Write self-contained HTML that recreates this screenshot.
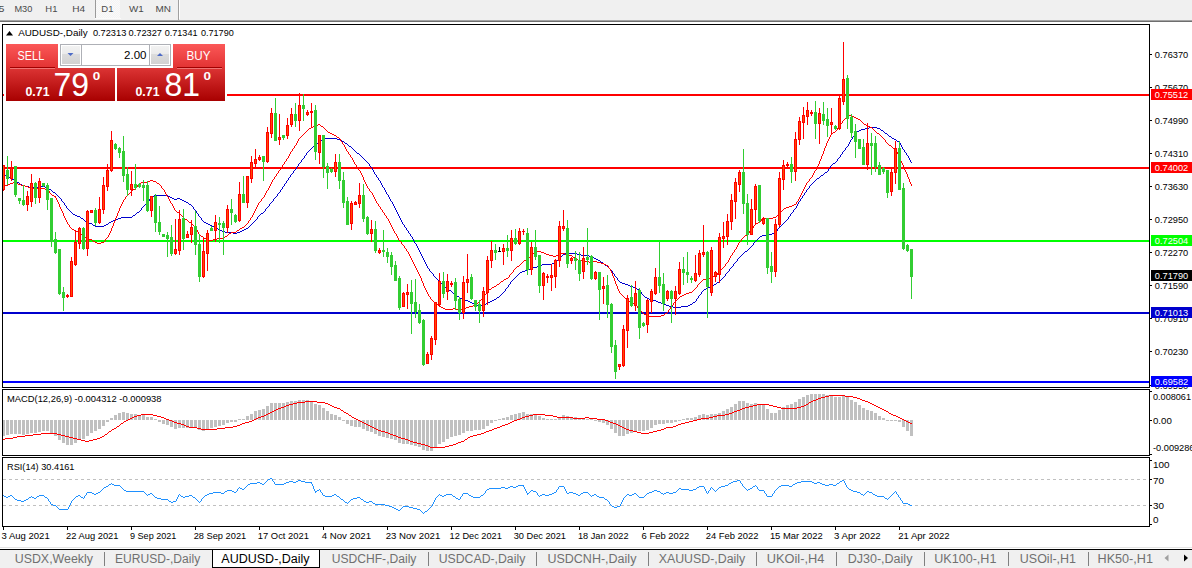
<!DOCTYPE html><html><head><meta charset="utf-8"><title>AUDUSD Daily</title><style>
html,body{margin:0;padding:0;width:1192px;height:568px;overflow:hidden;background:#fff;}
svg text{font-family:"Liberation Sans", sans-serif;}
</style></head><body>
<svg width="1192" height="568" viewBox="0 0 1192 568" style="position:absolute;left:0;top:0">
<defs>
<clipPath id="cm"><rect x="3" y="25" width="1146" height="362"/></clipPath>
<clipPath id="cmacd"><rect x="3" y="390" width="1146" height="65"/></clipPath>
<clipPath id="crsi"><rect x="3" y="458" width="1146" height="68"/></clipPath>
<linearGradient id="gtop" x1="0" y1="0" x2="0" y2="1"><stop offset="0" stop-color="#fb5858"/><stop offset="1" stop-color="#e23232"/></linearGradient>
<linearGradient id="gbot" x1="0" y1="0" x2="0" y2="1"><stop offset="0" stop-color="#dc3434"/><stop offset="1" stop-color="#a80000"/></linearGradient>
<linearGradient id="gbtn" x1="0" y1="0" x2="0" y2="1"><stop offset="0" stop-color="#f2f2f2"/><stop offset="0.42" stop-color="#ebebeb"/><stop offset="0.45" stop-color="#dcdcdc"/><stop offset="1" stop-color="#d2d2d2"/></linearGradient>
<pattern id="pd1" width="2" height="2" patternUnits="userSpaceOnUse"><rect width="2" height="2" fill="#f4f4f4"/><rect width="1" height="1" fill="#fafafa"/><rect x="1" y="1" width="1" height="1" fill="#fafafa"/></pattern>
</defs>
<rect x="0" y="0" width="1192" height="20" fill="#f0f0f0"/>
<rect x="0" y="20" width="1192" height="1" fill="#a4a4a4"/>
<rect x="0" y="21" width="1192" height="1" fill="#6e6e6e"/>
<rect x="96" y="0" width="24" height="18" fill="url(#pd1)"/><rect x="95" y="18" width="26" height="1" fill="#fbfbfb"/>
<rect x="95" y="0" width="1" height="18" fill="#9a9a9a"/>
<rect x="178" y="0" width="1" height="20" fill="#a0a0a0"/>
<rect x="179" y="0" width="1" height="19" fill="#ffffff"/>
<text x="-1.5" y="11.8" font-size="9.3" fill="#4a4a4a" textLength="5.9" lengthAdjust="spacingAndGlyphs">5</text>
<text x="14.4" y="11.8" font-size="9.3" fill="#4a4a4a" textLength="17.9" lengthAdjust="spacingAndGlyphs">M30</text>
<text x="45.3" y="11.8" font-size="9.3" fill="#4a4a4a" textLength="12.1" lengthAdjust="spacingAndGlyphs">H1</text>
<text x="72.2" y="11.8" font-size="9.3" fill="#4a4a4a" textLength="12.9" lengthAdjust="spacingAndGlyphs">H4</text>
<text x="101.3" y="11.8" font-size="9.3" fill="#4a4a4a" textLength="12.1" lengthAdjust="spacingAndGlyphs">D1</text>
<text x="129" y="11.8" font-size="9.3" fill="#4a4a4a" textLength="14.7" lengthAdjust="spacingAndGlyphs">W1</text>
<text x="155.5" y="11.8" font-size="9.3" fill="#4a4a4a" textLength="15.5" lengthAdjust="spacingAndGlyphs">MN</text>
<rect x="2" y="24" width="1148" height="1" fill="#000"/>
<rect x="2" y="387" width="1148" height="1" fill="#000"/>
<rect x="2" y="24" width="1" height="364" fill="#000"/>
<rect x="1149" y="24" width="1" height="364" fill="#000"/>
<rect x="3" y="94" width="1146" height="2" fill="#ff0000"/>
<rect x="3" y="167" width="1146" height="2" fill="#ff0000"/>
<rect x="3" y="240" width="1146" height="2" fill="#00ff00"/>
<rect x="3" y="312" width="1146" height="2" fill="#0000cd"/>
<rect x="3" y="381" width="1146" height="2" fill="#0000ff"/>
<g clip-path="url(#cm)">
<path d="M3,174h1v1h-1zM4,174h1v1h-1zM5,175h1v1h-1zM6,175h1v1h-1zM7,175h1v1h-1zM8,176h1v1h-1zM9,177h1v1h-1zM10,177h1v1h-1zM11,178h1v1h-1zM12,179h1v1h-1zM13,179h1v1h-1zM14,180h1v1h-1zM15,180h1v1h-1zM16,181h1v1h-1zM17,182h1v1h-1zM18,182h1v1h-1zM19,183h1v1h-1zM20,184h1v1h-1zM21,184h1v1h-1zM22,185h1v1h-1zM23,185h1v1h-1zM24,185h1v1h-1zM25,186h1v1h-1zM26,186h1v1h-1zM27,186h1v1h-1zM28,186h1v1h-1zM29,187h1v1h-1zM30,187h1v1h-1zM31,187h1v1h-1zM32,187h1v1h-1zM33,187h1v1h-1zM34,187h1v1h-1zM35,187h1v1h-1zM36,187h1v1h-1zM37,187h1v1h-1zM38,187h1v1h-1zM39,187h1v1h-1zM40,187h1v1h-1zM41,186h1v1h-1zM42,186h1v1h-1zM43,186h1v1h-1zM44,186h1v1h-1zM45,187h1v1h-1zM46,187h1v1h-1zM47,187h1v1h-1zM48,188h1v1h-1zM49,189h1v1h-1zM50,189h1v1h-1zM51,190h1v1h-1zM52,191h1v1h-1zM53,192h1v1h-1zM54,192h1v1h-1zM55,193h1v1h-1zM56,194h1v1h-1zM57,195h1v1h-1zM58,196h1v1h-1zM59,197h1v1h-1zM60,198h1v1h-1zM61,199h1v2h-1zM62,201h1v1h-1zM63,202h1v1h-1zM64,203h1v2h-1zM65,205h1v1h-1zM66,206h1v2h-1zM67,208h1v1h-1zM68,209h1v1h-1zM69,210h1v1h-1zM70,211h1v1h-1zM71,212h1v1h-1zM72,213h1v1h-1zM73,214h1v1h-1zM74,214h1v1h-1zM75,215h1v1h-1zM76,215h1v1h-1zM77,216h1v1h-1zM78,216h1v1h-1zM79,216h1v1h-1zM80,217h1v1h-1zM81,218h1v1h-1zM82,218h1v1h-1zM83,219h1v1h-1zM84,220h1v1h-1zM85,221h1v1h-1zM86,221h1v1h-1zM87,222h1v1h-1zM88,222h1v1h-1zM89,223h1v1h-1zM90,223h1v1h-1zM91,223h1v1h-1zM92,224h1v1h-1zM93,225h1v1h-1zM94,225h1v1h-1zM95,226h1v1h-1zM96,226h1v1h-1zM97,226h1v1h-1zM98,226h1v1h-1zM99,226h1v1h-1zM100,226h1v1h-1zM101,226h1v1h-1zM102,226h1v1h-1zM103,226h1v1h-1zM104,225h1v1h-1zM105,225h1v1h-1zM106,224h1v1h-1zM107,224h1v1h-1zM108,223h1v1h-1zM109,222h1v1h-1zM110,222h1v1h-1zM111,221h1v1h-1zM112,221h1v1h-1zM113,220h1v1h-1zM114,220h1v1h-1zM115,220h1v1h-1zM116,219h1v1h-1zM117,219h1v1h-1zM118,218h1v1h-1zM119,218h1v1h-1zM120,218h1v1h-1zM121,217h1v1h-1zM122,217h1v1h-1zM123,217h1v1h-1zM124,217h1v1h-1zM125,217h1v1h-1zM126,217h1v1h-1zM127,217h1v1h-1zM128,217h1v1h-1zM129,217h1v1h-1zM130,217h1v1h-1zM131,217h1v1h-1zM132,216h1v1h-1zM133,215h1v1h-1zM134,215h1v1h-1zM135,214h1v1h-1zM136,213h1v1h-1zM137,212h1v1h-1zM138,212h1v1h-1zM139,211h1v1h-1zM140,210h1v1h-1zM141,208h1v2h-1zM142,207h1v1h-1zM143,206h1v1h-1zM144,205h1v1h-1zM145,204h1v1h-1zM146,203h1v1h-1zM147,202h1v1h-1zM148,201h1v1h-1zM149,199h1v2h-1zM150,198h1v1h-1zM151,197h1v1h-1zM152,196h1v1h-1zM153,196h1v1h-1zM154,195h1v1h-1zM155,195h1v1h-1zM156,195h1v1h-1zM157,195h1v1h-1zM158,195h1v1h-1zM159,195h1v1h-1zM160,195h1v1h-1zM161,195h1v1h-1zM162,195h1v1h-1zM163,195h1v1h-1zM164,195h1v1h-1zM165,195h1v1h-1zM166,195h1v1h-1zM167,195h1v1h-1zM168,196h1v1h-1zM169,196h1v1h-1zM170,197h1v1h-1zM171,197h1v1h-1zM172,198h1v1h-1zM173,198h1v1h-1zM174,199h1v1h-1zM175,199h1v1h-1zM176,199h1v1h-1zM177,198h1v1h-1zM178,198h1v1h-1zM179,198h1v1h-1zM180,199h1v1h-1zM181,199h1v1h-1zM182,200h1v1h-1zM183,200h1v1h-1zM184,201h1v1h-1zM185,201h1v1h-1zM186,202h1v1h-1zM187,202h1v1h-1zM188,203h1v1h-1zM189,204h1v1h-1zM190,204h1v1h-1zM191,205h1v1h-1zM192,206h1v1h-1zM193,207h1v2h-1zM194,209h1v1h-1zM195,210h1v1h-1zM196,211h1v2h-1zM197,213h1v1h-1zM198,214h1v2h-1zM199,216h1v1h-1zM200,217h1v1h-1zM201,218h1v2h-1zM202,220h1v1h-1zM203,221h1v1h-1zM204,222h1v1h-1zM205,222h1v1h-1zM206,223h1v1h-1zM207,223h1v1h-1zM208,224h1v1h-1zM209,224h1v1h-1zM210,225h1v1h-1zM211,225h1v1h-1zM212,226h1v1h-1zM213,226h1v1h-1zM214,227h1v1h-1zM215,227h1v1h-1zM216,228h1v1h-1zM217,228h1v1h-1zM218,229h1v1h-1zM219,229h1v1h-1zM220,230h1v1h-1zM221,230h1v1h-1zM222,231h1v1h-1zM223,231h1v1h-1zM224,231h1v1h-1zM225,232h1v1h-1zM226,232h1v1h-1zM227,232h1v1h-1zM228,232h1v1h-1zM229,232h1v1h-1zM230,232h1v1h-1zM231,232h1v1h-1zM232,232h1v1h-1zM233,233h1v1h-1zM234,233h1v1h-1zM235,233h1v1h-1zM236,233h1v1h-1zM237,232h1v1h-1zM238,232h1v1h-1zM239,232h1v1h-1zM240,231h1v1h-1zM241,231h1v1h-1zM242,230h1v1h-1zM243,230h1v1h-1zM244,229h1v1h-1zM245,229h1v1h-1zM246,228h1v1h-1zM247,228h1v1h-1zM248,227h1v1h-1zM249,226h1v1h-1zM250,225h1v1h-1zM251,224h1v1h-1zM252,223h1v1h-1zM253,222h1v1h-1zM254,221h1v1h-1zM255,220h1v1h-1zM256,219h1v1h-1zM257,217h1v2h-1zM258,216h1v1h-1zM259,215h1v1h-1zM260,214h1v1h-1zM261,213h1v1h-1zM262,213h1v1h-1zM263,212h1v1h-1zM264,211h1v1h-1zM265,209h1v2h-1zM266,208h1v1h-1zM267,207h1v1h-1zM268,206h1v1h-1zM269,204h1v2h-1zM270,203h1v1h-1zM271,202h1v1h-1zM272,201h1v1h-1zM273,199h1v2h-1zM274,198h1v1h-1zM275,197h1v1h-1zM276,196h1v1h-1zM277,194h1v2h-1zM278,193h1v1h-1zM279,192h1v1h-1zM280,190h1v2h-1zM281,189h1v1h-1zM282,187h1v2h-1zM283,186h1v1h-1zM284,184h1v2h-1zM285,183h1v1h-1zM286,181h1v2h-1zM287,180h1v1h-1zM288,178h1v2h-1zM289,177h1v1h-1zM290,175h1v2h-1zM291,174h1v1h-1zM292,173h1v1h-1zM293,171h1v2h-1zM294,170h1v1h-1zM295,169h1v1h-1zM296,167h1v2h-1zM297,166h1v1h-1zM298,164h1v2h-1zM299,163h1v1h-1zM300,162h1v1h-1zM301,160h1v2h-1zM302,159h1v1h-1zM303,158h1v1h-1zM304,156h1v2h-1zM305,155h1v1h-1zM306,153h1v2h-1zM307,152h1v1h-1zM308,151h1v1h-1zM309,150h1v1h-1zM310,149h1v1h-1zM311,148h1v1h-1zM312,147h1v1h-1zM313,146h1v1h-1zM314,146h1v1h-1zM315,145h1v1h-1zM316,144h1v1h-1zM317,143h1v1h-1zM318,142h1v1h-1zM319,141h1v1h-1zM320,140h1v1h-1zM321,140h1v1h-1zM322,139h1v1h-1zM323,139h1v1h-1zM324,139h1v1h-1zM325,138h1v1h-1zM326,138h1v1h-1zM327,138h1v1h-1zM328,138h1v1h-1zM329,138h1v1h-1zM330,138h1v1h-1zM331,138h1v1h-1zM332,138h1v1h-1zM333,138h1v1h-1zM334,138h1v1h-1zM335,138h1v1h-1zM336,138h1v1h-1zM337,139h1v1h-1zM338,139h1v1h-1zM339,139h1v1h-1zM340,140h1v1h-1zM341,140h1v1h-1zM342,141h1v1h-1zM343,141h1v1h-1zM344,142h1v1h-1zM345,143h1v1h-1zM346,143h1v1h-1zM347,144h1v1h-1zM348,145h1v1h-1zM349,146h1v1h-1zM350,146h1v1h-1zM351,147h1v1h-1zM352,148h1v1h-1zM353,149h1v1h-1zM354,150h1v1h-1zM355,151h1v1h-1zM356,152h1v1h-1zM357,153h1v1h-1zM358,153h1v1h-1zM359,154h1v1h-1zM360,155h1v1h-1zM361,156h1v1h-1zM362,157h1v1h-1zM363,158h1v1h-1zM364,159h1v1h-1zM365,160h1v1h-1zM366,161h1v1h-1zM367,162h1v1h-1zM368,163h1v1h-1zM369,164h1v2h-1zM370,166h1v1h-1zM371,167h1v1h-1zM372,168h1v2h-1zM373,170h1v2h-1zM374,172h1v2h-1zM375,174h1v1h-1zM376,175h1v2h-1zM377,177h1v1h-1zM378,178h1v2h-1zM379,180h1v1h-1zM380,181h1v2h-1zM381,183h1v2h-1zM382,185h1v2h-1zM383,187h1v1h-1zM384,188h1v2h-1zM385,190h1v2h-1zM386,192h1v2h-1zM387,194h1v1h-1zM388,195h1v2h-1zM389,197h1v2h-1zM390,199h1v2h-1zM391,201h1v1h-1zM392,202h1v2h-1zM393,204h1v2h-1zM394,206h1v2h-1zM395,208h1v2h-1zM396,210h1v2h-1zM397,212h1v2h-1zM398,214h1v2h-1zM399,216h1v2h-1zM400,218h1v2h-1zM401,220h1v2h-1zM402,222h1v2h-1zM403,224h1v1h-1zM404,225h1v2h-1zM405,227h1v1h-1zM406,228h1v2h-1zM407,230h1v1h-1zM408,231h1v2h-1zM409,233h1v1h-1zM410,234h1v2h-1zM411,236h1v1h-1zM412,237h1v2h-1zM413,239h1v2h-1zM414,241h1v2h-1zM415,243h1v1h-1zM416,244h1v2h-1zM417,246h1v2h-1zM418,248h1v2h-1zM419,250h1v2h-1zM420,252h1v2h-1zM421,254h1v2h-1zM422,256h1v2h-1zM423,258h1v2h-1zM424,260h1v2h-1zM425,262h1v2h-1zM426,264h1v2h-1zM427,266h1v2h-1zM428,268h1v1h-1zM429,269h1v2h-1zM430,271h1v1h-1zM431,272h1v1h-1zM432,273h1v1h-1zM433,274h1v2h-1zM434,276h1v1h-1zM435,277h1v1h-1zM436,278h1v1h-1zM437,279h1v1h-1zM438,280h1v1h-1zM439,281h1v1h-1zM440,282h1v1h-1zM441,283h1v1h-1zM442,284h1v1h-1zM443,285h1v1h-1zM444,286h1v1h-1zM445,287h1v1h-1zM446,287h1v1h-1zM447,288h1v1h-1zM448,289h1v1h-1zM449,290h1v1h-1zM450,290h1v1h-1zM451,291h1v1h-1zM452,292h1v1h-1zM453,293h1v1h-1zM454,293h1v1h-1zM455,294h1v1h-1zM456,295h1v1h-1zM457,296h1v1h-1zM458,296h1v1h-1zM459,297h1v1h-1zM460,298h1v1h-1zM461,298h1v1h-1zM462,299h1v1h-1zM463,299h1v1h-1zM464,299h1v1h-1zM465,300h1v1h-1zM466,300h1v1h-1zM467,300h1v1h-1zM468,301h1v1h-1zM469,301h1v1h-1zM470,302h1v1h-1zM471,302h1v1h-1zM472,303h1v1h-1zM473,303h1v1h-1zM474,304h1v1h-1zM475,304h1v1h-1zM476,304h1v1h-1zM477,305h1v1h-1zM478,305h1v1h-1zM479,305h1v1h-1zM480,305h1v1h-1zM481,305h1v1h-1zM482,305h1v1h-1zM483,305h1v1h-1zM484,304h1v1h-1zM485,304h1v1h-1zM486,303h1v1h-1zM487,303h1v1h-1zM488,302h1v1h-1zM489,302h1v1h-1zM490,301h1v1h-1zM491,301h1v1h-1zM492,300h1v1h-1zM493,300h1v1h-1zM494,299h1v1h-1zM495,299h1v1h-1zM496,298h1v1h-1zM497,297h1v1h-1zM498,297h1v1h-1zM499,296h1v1h-1zM500,295h1v1h-1zM501,294h1v1h-1zM502,293h1v1h-1zM503,292h1v1h-1zM504,291h1v1h-1zM505,289h1v2h-1zM506,288h1v1h-1zM507,287h1v1h-1zM508,285h1v2h-1zM509,284h1v1h-1zM510,282h1v2h-1zM511,281h1v1h-1zM512,280h1v1h-1zM513,279h1v1h-1zM514,278h1v1h-1zM515,277h1v1h-1zM516,276h1v1h-1zM517,275h1v1h-1zM518,274h1v1h-1zM519,273h1v1h-1zM520,272h1v1h-1zM521,272h1v1h-1zM522,271h1v1h-1zM523,271h1v1h-1zM524,271h1v1h-1zM525,270h1v1h-1zM526,270h1v1h-1zM527,270h1v1h-1zM528,269h1v1h-1zM529,269h1v1h-1zM530,268h1v1h-1zM531,268h1v1h-1zM532,268h1v1h-1zM533,267h1v1h-1zM534,267h1v1h-1zM535,267h1v1h-1zM536,267h1v1h-1zM537,266h1v1h-1zM538,266h1v1h-1zM539,266h1v1h-1zM540,265h1v1h-1zM541,265h1v1h-1zM542,264h1v1h-1zM543,264h1v1h-1zM544,264h1v1h-1zM545,264h1v1h-1zM546,264h1v1h-1zM547,264h1v1h-1zM548,264h1v1h-1zM549,264h1v1h-1zM550,264h1v1h-1zM551,264h1v1h-1zM552,263h1v1h-1zM553,263h1v1h-1zM554,262h1v1h-1zM555,262h1v1h-1zM556,261h1v1h-1zM557,260h1v1h-1zM558,259h1v1h-1zM559,258h1v1h-1zM560,257h1v1h-1zM561,256h1v1h-1zM562,255h1v1h-1zM563,254h1v1h-1zM564,254h1v1h-1zM565,253h1v1h-1zM566,253h1v1h-1zM567,253h1v1h-1zM568,253h1v1h-1zM569,253h1v1h-1zM570,253h1v1h-1zM571,253h1v1h-1zM572,253h1v1h-1zM573,253h1v1h-1zM574,253h1v1h-1zM575,253h1v1h-1zM576,253h1v1h-1zM577,254h1v1h-1zM578,254h1v1h-1zM579,254h1v1h-1zM580,254h1v1h-1zM581,255h1v1h-1zM582,255h1v1h-1zM583,255h1v1h-1zM584,255h1v1h-1zM585,255h1v1h-1zM586,255h1v1h-1zM587,255h1v1h-1zM588,255h1v1h-1zM589,256h1v1h-1zM590,256h1v1h-1zM591,256h1v1h-1zM592,257h1v1h-1zM593,257h1v1h-1zM594,258h1v1h-1zM595,258h1v1h-1zM596,259h1v1h-1zM597,259h1v1h-1zM598,260h1v1h-1zM599,260h1v1h-1zM600,261h1v1h-1zM601,262h1v1h-1zM602,262h1v1h-1zM603,263h1v1h-1zM604,264h1v1h-1zM605,265h1v1h-1zM606,265h1v1h-1zM607,266h1v1h-1zM608,267h1v1h-1zM609,268h1v1h-1zM610,269h1v1h-1zM611,270h1v1h-1zM612,271h1v2h-1zM613,273h1v1h-1zM614,274h1v2h-1zM615,276h1v1h-1zM616,277h1v1h-1zM617,278h1v2h-1zM618,280h1v1h-1zM619,281h1v1h-1zM620,282h1v1h-1zM621,282h1v1h-1zM622,283h1v1h-1zM623,283h1v1h-1zM624,283h1v1h-1zM625,284h1v1h-1zM626,284h1v1h-1zM627,284h1v1h-1zM628,285h1v1h-1zM629,285h1v1h-1zM630,286h1v1h-1zM631,286h1v1h-1zM632,286h1v1h-1zM633,287h1v1h-1zM634,287h1v1h-1zM635,287h1v1h-1zM636,288h1v1h-1zM637,289h1v1h-1zM638,289h1v1h-1zM639,290h1v1h-1zM640,291h1v1h-1zM641,292h1v2h-1zM642,294h1v1h-1zM643,295h1v1h-1zM644,296h1v1h-1zM645,297h1v1h-1zM646,297h1v1h-1zM647,298h1v1h-1zM648,298h1v1h-1zM649,299h1v1h-1zM650,299h1v1h-1zM651,299h1v1h-1zM652,299h1v1h-1zM653,300h1v1h-1zM654,300h1v1h-1zM655,300h1v1h-1zM656,301h1v1h-1zM657,301h1v1h-1zM658,302h1v1h-1zM659,302h1v1h-1zM660,302h1v1h-1zM661,303h1v1h-1zM662,303h1v1h-1zM663,303h1v1h-1zM664,304h1v1h-1zM665,304h1v1h-1zM666,305h1v1h-1zM667,305h1v1h-1zM668,305h1v1h-1zM669,306h1v1h-1zM670,306h1v1h-1zM671,306h1v1h-1zM672,306h1v1h-1zM673,307h1v1h-1zM674,307h1v1h-1zM675,307h1v1h-1zM676,307h1v1h-1zM677,307h1v1h-1zM678,307h1v1h-1zM679,307h1v1h-1zM680,307h1v1h-1zM681,306h1v1h-1zM682,306h1v1h-1zM683,306h1v1h-1zM684,306h1v1h-1zM685,306h1v1h-1zM686,306h1v1h-1zM687,306h1v1h-1zM688,305h1v1h-1zM689,305h1v1h-1zM690,304h1v1h-1zM691,304h1v1h-1zM692,303h1v1h-1zM693,302h1v1h-1zM694,302h1v1h-1zM695,301h1v1h-1zM696,299h1v2h-1zM697,298h1v1h-1zM698,296h1v2h-1zM699,295h1v1h-1zM700,294h1v1h-1zM701,292h1v2h-1zM702,291h1v1h-1zM703,290h1v1h-1zM704,289h1v1h-1zM705,289h1v1h-1zM706,288h1v1h-1zM707,288h1v1h-1zM708,287h1v1h-1zM709,287h1v1h-1zM710,286h1v1h-1zM711,286h1v1h-1zM712,285h1v1h-1zM713,285h1v1h-1zM714,284h1v1h-1zM715,284h1v1h-1zM716,283h1v1h-1zM717,282h1v1h-1zM718,282h1v1h-1zM719,281h1v1h-1zM720,280h1v1h-1zM721,279h1v1h-1zM722,278h1v1h-1zM723,277h1v1h-1zM724,276h1v1h-1zM725,274h1v2h-1zM726,273h1v1h-1zM727,272h1v1h-1zM728,271h1v1h-1zM729,269h1v2h-1zM730,268h1v1h-1zM731,267h1v1h-1zM732,266h1v1h-1zM733,264h1v2h-1zM734,263h1v1h-1zM735,262h1v1h-1zM736,261h1v1h-1zM737,259h1v2h-1zM738,258h1v1h-1zM739,257h1v1h-1zM740,256h1v1h-1zM741,255h1v1h-1zM742,254h1v1h-1zM743,253h1v1h-1zM744,252h1v1h-1zM745,251h1v1h-1zM746,251h1v1h-1zM747,250h1v1h-1zM748,249h1v1h-1zM749,248h1v1h-1zM750,247h1v1h-1zM751,246h1v1h-1zM752,245h1v1h-1zM753,243h1v2h-1zM754,242h1v1h-1zM755,241h1v1h-1zM756,240h1v1h-1zM757,239h1v1h-1zM758,238h1v1h-1zM759,237h1v1h-1zM760,236h1v1h-1zM761,236h1v1h-1zM762,235h1v1h-1zM763,235h1v1h-1zM764,235h1v1h-1zM765,235h1v1h-1zM766,235h1v1h-1zM767,235h1v1h-1zM768,235h1v1h-1zM769,234h1v1h-1zM770,234h1v1h-1zM771,234h1v1h-1zM772,233h1v1h-1zM773,233h1v1h-1zM774,232h1v1h-1zM775,232h1v1h-1zM776,231h1v1h-1zM777,229h1v2h-1zM778,228h1v1h-1zM779,227h1v1h-1zM780,226h1v1h-1zM781,225h1v1h-1zM782,224h1v1h-1zM783,223h1v1h-1zM784,222h1v1h-1zM785,221h1v1h-1zM786,220h1v1h-1zM787,219h1v1h-1zM788,217h1v2h-1zM789,216h1v1h-1zM790,214h1v2h-1zM791,213h1v1h-1zM792,212h1v1h-1zM793,210h1v2h-1zM794,209h1v1h-1zM795,208h1v1h-1zM796,206h1v2h-1zM797,204h1v2h-1zM798,202h1v2h-1zM799,201h1v1h-1zM800,199h1v2h-1zM801,198h1v1h-1zM802,196h1v2h-1zM803,195h1v1h-1zM804,193h1v2h-1zM805,192h1v1h-1zM806,190h1v2h-1zM807,189h1v1h-1zM808,188h1v1h-1zM809,186h1v2h-1zM810,185h1v1h-1zM811,184h1v1h-1zM812,183h1v1h-1zM813,182h1v1h-1zM814,181h1v1h-1zM815,180h1v1h-1zM816,179h1v1h-1zM817,178h1v1h-1zM818,178h1v1h-1zM819,177h1v1h-1zM820,176h1v1h-1zM821,175h1v1h-1zM822,175h1v1h-1zM823,174h1v1h-1zM824,173h1v1h-1zM825,172h1v1h-1zM826,172h1v1h-1zM827,171h1v1h-1zM828,169h1v2h-1zM829,168h1v1h-1zM830,166h1v2h-1zM831,165h1v1h-1zM832,164h1v1h-1zM833,163h1v1h-1zM834,163h1v1h-1zM835,162h1v1h-1zM836,161h1v1h-1zM837,159h1v2h-1zM838,158h1v1h-1zM839,157h1v1h-1zM840,155h1v2h-1zM841,154h1v1h-1zM842,152h1v2h-1zM843,151h1v1h-1zM844,150h1v1h-1zM845,148h1v2h-1zM846,147h1v1h-1zM847,146h1v1h-1zM848,144h1v2h-1zM849,142h1v2h-1zM850,140h1v2h-1zM851,139h1v1h-1zM852,137h1v2h-1zM853,136h1v1h-1zM854,134h1v2h-1zM855,133h1v1h-1zM856,132h1v1h-1zM857,131h1v1h-1zM858,131h1v1h-1zM859,130h1v1h-1zM860,130h1v1h-1zM861,129h1v1h-1zM862,129h1v1h-1zM863,129h1v1h-1zM864,129h1v1h-1zM865,128h1v1h-1zM866,128h1v1h-1zM867,128h1v1h-1zM868,128h1v1h-1zM869,127h1v1h-1zM870,127h1v1h-1zM871,127h1v1h-1zM872,127h1v1h-1zM873,127h1v1h-1zM874,127h1v1h-1zM875,127h1v1h-1zM876,127h1v1h-1zM877,128h1v1h-1zM878,128h1v1h-1zM879,128h1v1h-1zM880,129h1v1h-1zM881,130h1v1h-1zM882,130h1v1h-1zM883,131h1v1h-1zM884,132h1v1h-1zM885,133h1v1h-1zM886,133h1v1h-1zM887,134h1v1h-1zM888,135h1v1h-1zM889,136h1v1h-1zM890,136h1v1h-1zM891,137h1v1h-1zM892,138h1v1h-1zM893,138h1v1h-1zM894,139h1v1h-1zM895,139h1v1h-1zM896,140h1v1h-1zM897,141h1v1h-1zM898,141h1v1h-1zM899,142h1v1h-1zM900,143h1v2h-1zM901,145h1v2h-1zM902,147h1v2h-1zM903,149h1v1h-1zM904,150h1v2h-1zM905,152h1v1h-1zM906,153h1v2h-1zM907,155h1v1h-1zM908,156h1v2h-1zM909,158h1v2h-1zM910,160h1v2h-1zM911,162h1v1h-1z" fill="#0000cd" shape-rendering="crispEdges"/>
<path d="M3,186h1v1h-1zM4,186h1v1h-1zM5,185h1v1h-1zM6,185h1v1h-1zM7,185h1v1h-1zM8,184h1v1h-1zM9,184h1v1h-1zM10,183h1v1h-1zM11,183h1v1h-1zM12,183h1v1h-1zM13,182h1v1h-1zM14,182h1v1h-1zM15,182h1v1h-1zM16,183h1v1h-1zM17,183h1v1h-1zM18,184h1v1h-1zM19,184h1v1h-1zM20,184h1v1h-1zM21,185h1v1h-1zM22,185h1v1h-1zM23,185h1v1h-1zM24,185h1v1h-1zM25,186h1v1h-1zM26,186h1v1h-1zM27,186h1v1h-1zM28,187h1v1h-1zM29,187h1v1h-1zM30,188h1v1h-1zM31,188h1v1h-1zM32,188h1v1h-1zM33,188h1v1h-1zM34,188h1v1h-1zM35,188h1v1h-1zM36,188h1v1h-1zM37,188h1v1h-1zM38,188h1v1h-1zM39,188h1v1h-1zM40,188h1v1h-1zM41,188h1v1h-1zM42,188h1v1h-1zM43,188h1v1h-1zM44,188h1v1h-1zM45,189h1v1h-1zM46,189h1v1h-1zM47,189h1v1h-1zM48,190h1v1h-1zM49,191h1v2h-1zM50,193h1v1h-1zM51,194h1v1h-1zM52,195h1v1h-1zM53,195h1v1h-1zM54,196h1v1h-1zM55,196h1v2h-1zM56,198h1v2h-1zM57,200h1v2h-1zM58,202h1v2h-1zM59,204h1v3h-1zM60,207h1v2h-1zM61,209h1v2h-1zM62,211h1v2h-1zM63,213h1v3h-1zM64,216h1v2h-1zM65,218h1v2h-1zM66,220h1v2h-1zM67,222h1v2h-1zM68,224h1v1h-1zM69,225h1v2h-1zM70,227h1v1h-1zM71,228h1v1h-1zM72,229h1v1h-1zM73,229h1v1h-1zM74,230h1v1h-1zM75,230h1v1h-1zM76,231h1v1h-1zM77,231h1v1h-1zM78,232h1v1h-1zM79,232h1v1h-1zM80,233h1v1h-1zM81,234h1v1h-1zM82,235h1v1h-1zM83,236h1v1h-1zM84,237h1v1h-1zM85,237h1v1h-1zM86,238h1v1h-1zM87,238h1v1h-1zM88,238h1v1h-1zM89,239h1v1h-1zM90,239h1v1h-1zM91,239h1v1h-1zM92,240h1v1h-1zM93,241h1v1h-1zM94,241h1v1h-1zM95,242h1v1h-1zM96,242h1v1h-1zM97,243h1v1h-1zM98,243h1v1h-1zM99,243h1v1h-1zM100,243h1v1h-1zM101,242h1v1h-1zM102,242h1v1h-1zM103,242h1v1h-1zM104,241h1v1h-1zM105,239h1v2h-1zM106,238h1v1h-1zM107,237h1v1h-1zM108,235h1v2h-1zM109,233h1v2h-1zM110,231h1v2h-1zM111,228h1v3h-1zM112,226h1v2h-1zM113,223h1v3h-1zM114,221h1v2h-1zM115,218h1v3h-1zM116,216h1v2h-1zM117,213h1v3h-1zM118,211h1v2h-1zM119,208h1v3h-1zM120,206h1v2h-1zM121,204h1v2h-1zM122,202h1v2h-1zM123,200h1v2h-1zM124,199h1v1h-1zM125,197h1v2h-1zM126,196h1v1h-1zM127,195h1v1h-1zM128,194h1v1h-1zM129,193h1v1h-1zM130,192h1v1h-1zM131,191h1v1h-1zM132,190h1v1h-1zM133,189h1v1h-1zM134,189h1v1h-1zM135,188h1v1h-1zM136,187h1v1h-1zM137,185h1v2h-1zM138,184h1v1h-1zM139,183h1v1h-1zM140,183h1v1h-1zM141,182h1v1h-1zM142,182h1v1h-1zM143,182h1v1h-1zM144,182h1v1h-1zM145,182h1v1h-1zM146,182h1v1h-1zM147,182h1v1h-1zM148,181h1v1h-1zM149,181h1v1h-1zM150,180h1v1h-1zM151,180h1v1h-1zM152,180h1v1h-1zM153,181h1v1h-1zM154,181h1v1h-1zM155,181h1v1h-1zM156,182h1v1h-1zM157,183h1v1h-1zM158,183h1v1h-1zM159,184h1v1h-1zM160,185h1v1h-1zM161,186h1v2h-1zM162,188h1v1h-1zM163,189h1v1h-1zM164,190h1v2h-1zM165,192h1v2h-1zM166,194h1v2h-1zM167,196h1v1h-1zM168,197h1v2h-1zM169,199h1v2h-1zM170,201h1v2h-1zM171,203h1v1h-1zM172,204h1v2h-1zM173,206h1v2h-1zM174,208h1v2h-1zM175,210h1v1h-1zM176,211h1v1h-1zM177,212h1v1h-1zM178,212h1v1h-1zM179,213h1v1h-1zM180,214h1v1h-1zM181,215h1v1h-1zM182,216h1v1h-1zM183,217h1v1h-1zM184,218h1v1h-1zM185,219h1v1h-1zM186,219h1v1h-1zM187,220h1v1h-1zM188,221h1v1h-1zM189,222h1v1h-1zM190,222h1v1h-1zM191,223h1v1h-1zM192,224h1v1h-1zM193,225h1v1h-1zM194,226h1v1h-1zM195,227h1v1h-1zM196,228h1v2h-1zM197,230h1v2h-1zM198,232h1v2h-1zM199,234h1v1h-1zM200,235h1v1h-1zM201,236h1v1h-1zM202,236h1v1h-1zM203,237h1v1h-1zM204,238h1v1h-1zM205,238h1v1h-1zM206,239h1v1h-1zM207,239h1v1h-1zM208,239h1v1h-1zM209,240h1v1h-1zM210,240h1v1h-1zM211,240h1v1h-1zM212,240h1v1h-1zM213,239h1v1h-1zM214,239h1v1h-1zM215,239h1v1h-1zM216,239h1v1h-1zM217,238h1v1h-1zM218,238h1v1h-1zM219,238h1v1h-1zM220,238h1v1h-1zM221,238h1v1h-1zM222,238h1v1h-1zM223,238h1v1h-1zM224,237h1v1h-1zM225,236h1v1h-1zM226,236h1v1h-1zM227,235h1v1h-1zM228,234h1v1h-1zM229,233h1v1h-1zM230,233h1v1h-1zM231,232h1v1h-1zM232,232h1v1h-1zM233,232h1v1h-1zM234,232h1v1h-1zM235,232h1v1h-1zM236,231h1v1h-1zM237,230h1v1h-1zM238,230h1v1h-1zM239,229h1v1h-1zM240,228h1v1h-1zM241,228h1v1h-1zM242,227h1v1h-1zM243,227h1v1h-1zM244,226h1v1h-1zM245,225h1v1h-1zM246,224h1v1h-1zM247,223h1v1h-1zM248,221h1v2h-1zM249,220h1v1h-1zM250,218h1v2h-1zM251,217h1v1h-1zM252,215h1v2h-1zM253,213h1v2h-1zM254,211h1v2h-1zM255,209h1v2h-1zM256,207h1v2h-1zM257,205h1v2h-1zM258,203h1v2h-1zM259,202h1v1h-1zM260,201h1v1h-1zM261,199h1v2h-1zM262,198h1v1h-1zM263,197h1v1h-1zM264,195h1v2h-1zM265,193h1v2h-1zM266,191h1v2h-1zM267,190h1v1h-1zM268,188h1v2h-1zM269,186h1v2h-1zM270,184h1v2h-1zM271,182h1v2h-1zM272,180h1v2h-1zM273,179h1v1h-1zM274,177h1v2h-1zM275,176h1v1h-1zM276,174h1v2h-1zM277,173h1v1h-1zM278,171h1v2h-1zM279,170h1v1h-1zM280,168h1v2h-1zM281,167h1v1h-1zM282,165h1v2h-1zM283,164h1v1h-1zM284,162h1v2h-1zM285,161h1v1h-1zM286,159h1v2h-1zM287,158h1v1h-1zM288,156h1v2h-1zM289,154h1v2h-1zM290,152h1v2h-1zM291,151h1v1h-1zM292,149h1v2h-1zM293,148h1v1h-1zM294,146h1v2h-1zM295,145h1v1h-1zM296,143h1v2h-1zM297,141h1v2h-1zM298,139h1v2h-1zM299,138h1v1h-1zM300,137h1v1h-1zM301,136h1v1h-1zM302,135h1v1h-1zM303,134h1v1h-1zM304,133h1v1h-1zM305,132h1v1h-1zM306,131h1v1h-1zM307,130h1v1h-1zM308,129h1v1h-1zM309,128h1v1h-1zM310,128h1v1h-1zM311,127h1v1h-1zM312,127h1v1h-1zM313,126h1v1h-1zM314,126h1v1h-1zM315,126h1v1h-1zM316,125h1v1h-1zM317,125h1v1h-1zM318,124h1v1h-1zM319,124h1v1h-1zM320,125h1v1h-1zM321,126h1v1h-1zM322,126h1v1h-1zM323,127h1v1h-1zM324,128h1v1h-1zM325,129h1v1h-1zM326,130h1v1h-1zM327,131h1v1h-1zM328,132h1v1h-1zM329,132h1v1h-1zM330,133h1v1h-1zM331,133h1v1h-1zM332,134h1v1h-1zM333,134h1v1h-1zM334,135h1v1h-1zM335,135h1v1h-1zM336,136h1v1h-1zM337,137h1v1h-1zM338,137h1v1h-1zM339,138h1v1h-1zM340,139h1v2h-1zM341,141h1v1h-1zM342,142h1v2h-1zM343,144h1v1h-1zM344,145h1v2h-1zM345,147h1v2h-1zM346,149h1v2h-1zM347,151h1v1h-1zM348,152h1v2h-1zM349,154h1v1h-1zM350,155h1v2h-1zM351,157h1v1h-1zM352,158h1v2h-1zM353,160h1v2h-1zM354,162h1v2h-1zM355,164h1v1h-1zM356,165h1v2h-1zM357,167h1v1h-1zM358,168h1v2h-1zM359,170h1v1h-1zM360,171h1v2h-1zM361,173h1v2h-1zM362,175h1v2h-1zM363,177h1v3h-1zM364,180h1v2h-1zM365,182h1v2h-1zM366,184h1v2h-1zM367,186h1v2h-1zM368,188h1v1h-1zM369,189h1v2h-1zM370,191h1v1h-1zM371,192h1v1h-1zM372,193h1v2h-1zM373,195h1v2h-1zM374,197h1v2h-1zM375,199h1v2h-1zM376,201h1v2h-1zM377,203h1v1h-1zM378,204h1v2h-1zM379,206h1v1h-1zM380,207h1v2h-1zM381,209h1v1h-1zM382,210h1v2h-1zM383,212h1v1h-1zM384,213h1v2h-1zM385,215h1v1h-1zM386,216h1v2h-1zM387,218h1v1h-1zM388,219h1v2h-1zM389,221h1v2h-1zM390,223h1v2h-1zM391,225h1v2h-1zM392,227h1v2h-1zM393,229h1v2h-1zM394,231h1v2h-1zM395,233h1v1h-1zM396,234h1v2h-1zM397,236h1v2h-1zM398,238h1v2h-1zM399,240h1v1h-1zM400,241h1v1h-1zM401,242h1v2h-1zM402,244h1v1h-1zM403,245h1v1h-1zM404,246h1v2h-1zM405,248h1v1h-1zM406,249h1v2h-1zM407,251h1v1h-1zM408,252h1v2h-1zM409,254h1v2h-1zM410,256h1v2h-1zM411,258h1v2h-1zM412,260h1v2h-1zM413,262h1v2h-1zM414,264h1v2h-1zM415,266h1v2h-1zM416,268h1v2h-1zM417,270h1v2h-1zM418,272h1v2h-1zM419,274h1v2h-1zM420,276h1v2h-1zM421,278h1v3h-1zM422,281h1v2h-1zM423,283h1v3h-1zM424,286h1v2h-1zM425,288h1v2h-1zM426,290h1v2h-1zM427,292h1v2h-1zM428,294h1v2h-1zM429,296h1v1h-1zM430,297h1v2h-1zM431,299h1v1h-1zM432,300h1v1h-1zM433,301h1v1h-1zM434,302h1v1h-1zM435,303h1v1h-1zM436,304h1v1h-1zM437,304h1v1h-1zM438,305h1v1h-1zM439,305h1v1h-1zM440,306h1v1h-1zM441,307h1v1h-1zM442,307h1v1h-1zM443,308h1v1h-1zM444,308h1v1h-1zM445,309h1v1h-1zM446,309h1v1h-1zM447,309h1v1h-1zM448,309h1v1h-1zM449,309h1v1h-1zM450,309h1v1h-1zM451,309h1v1h-1zM452,309h1v1h-1zM453,308h1v1h-1zM454,308h1v1h-1zM455,308h1v1h-1zM456,309h1v1h-1zM457,309h1v1h-1zM458,310h1v1h-1zM459,310h1v1h-1zM460,310h1v1h-1zM461,309h1v1h-1zM462,309h1v1h-1zM463,309h1v1h-1zM464,308h1v1h-1zM465,308h1v1h-1zM466,307h1v1h-1zM467,307h1v1h-1zM468,307h1v1h-1zM469,306h1v1h-1zM470,306h1v1h-1zM471,306h1v1h-1zM472,306h1v1h-1zM473,305h1v1h-1zM474,305h1v1h-1zM475,305h1v1h-1zM476,304h1v1h-1zM477,303h1v1h-1zM478,302h1v1h-1zM479,301h1v1h-1zM480,300h1v1h-1zM481,299h1v1h-1zM482,298h1v1h-1zM483,297h1v1h-1zM484,295h1v2h-1zM485,294h1v1h-1zM486,292h1v2h-1zM487,291h1v1h-1zM488,290h1v1h-1zM489,289h1v1h-1zM490,289h1v1h-1zM491,288h1v1h-1zM492,287h1v1h-1zM493,287h1v1h-1zM494,286h1v1h-1zM495,286h1v1h-1zM496,285h1v1h-1zM497,284h1v1h-1zM498,284h1v1h-1zM499,283h1v1h-1zM500,282h1v1h-1zM501,281h1v1h-1zM502,281h1v1h-1zM503,280h1v1h-1zM504,279h1v1h-1zM505,279h1v1h-1zM506,278h1v1h-1zM507,278h1v1h-1zM508,277h1v1h-1zM509,275h1v2h-1zM510,274h1v1h-1zM511,273h1v1h-1zM512,272h1v1h-1zM513,270h1v2h-1zM514,269h1v1h-1zM515,268h1v1h-1zM516,267h1v1h-1zM517,266h1v1h-1zM518,266h1v1h-1zM519,265h1v1h-1zM520,264h1v1h-1zM521,263h1v1h-1zM522,262h1v1h-1zM523,261h1v1h-1zM524,260h1v1h-1zM525,260h1v1h-1zM526,259h1v1h-1zM527,259h1v1h-1zM528,258h1v1h-1zM529,257h1v1h-1zM530,256h1v1h-1zM531,255h1v1h-1zM532,254h1v1h-1zM533,253h1v1h-1zM534,252h1v1h-1zM535,251h1v1h-1zM536,251h1v1h-1zM537,251h1v1h-1zM538,251h1v1h-1zM539,251h1v1h-1zM540,251h1v1h-1zM541,252h1v1h-1zM542,252h1v1h-1zM543,252h1v1h-1zM544,253h1v1h-1zM545,253h1v1h-1zM546,254h1v1h-1zM547,254h1v1h-1zM548,254h1v1h-1zM549,255h1v1h-1zM550,255h1v1h-1zM551,255h1v1h-1zM552,255h1v1h-1zM553,256h1v1h-1zM554,256h1v1h-1zM555,256h1v1h-1zM556,255h1v1h-1zM557,255h1v1h-1zM558,254h1v1h-1zM559,254h1v1h-1zM560,254h1v1h-1zM561,253h1v1h-1zM562,253h1v1h-1zM563,253h1v1h-1zM564,253h1v1h-1zM565,254h1v1h-1zM566,254h1v1h-1zM567,254h1v1h-1zM568,254h1v1h-1zM569,255h1v1h-1zM570,255h1v1h-1zM571,255h1v1h-1zM572,256h1v1h-1zM573,257h1v1h-1zM574,257h1v1h-1zM575,258h1v1h-1zM576,259h1v1h-1zM577,259h1v1h-1zM578,260h1v1h-1zM579,260h1v1h-1zM580,260h1v1h-1zM581,260h1v1h-1zM582,260h1v1h-1zM583,260h1v1h-1zM584,260h1v1h-1zM585,261h1v1h-1zM586,261h1v1h-1zM587,261h1v1h-1zM588,261h1v1h-1zM589,262h1v1h-1zM590,262h1v1h-1zM591,262h1v1h-1zM592,262h1v1h-1zM593,261h1v1h-1zM594,261h1v1h-1zM595,261h1v1h-1zM596,261h1v1h-1zM597,262h1v1h-1zM598,262h1v1h-1zM599,262h1v1h-1zM600,262h1v1h-1zM601,263h1v1h-1zM602,263h1v1h-1zM603,263h1v1h-1zM604,264h1v1h-1zM605,264h1v1h-1zM606,265h1v1h-1zM607,265h1v1h-1zM608,266h1v2h-1zM609,268h1v1h-1zM610,269h1v2h-1zM611,271h1v2h-1zM612,273h1v3h-1zM613,276h1v2h-1zM614,278h1v3h-1zM615,281h1v3h-1zM616,284h1v2h-1zM617,286h1v3h-1zM618,289h1v2h-1zM619,291h1v2h-1zM620,293h1v1h-1zM621,294h1v1h-1zM622,295h1v1h-1zM623,296h1v1h-1zM624,297h1v1h-1zM625,298h1v1h-1zM626,298h1v1h-1zM627,299h1v1h-1zM628,300h1v1h-1zM629,301h1v1h-1zM630,301h1v1h-1zM631,302h1v1h-1zM632,303h1v1h-1zM633,303h1v1h-1zM634,304h1v1h-1zM635,304h1v1h-1zM636,305h1v1h-1zM637,306h1v2h-1zM638,308h1v1h-1zM639,309h1v1h-1zM640,310h1v1h-1zM641,311h1v1h-1zM642,312h1v1h-1zM643,313h1v1h-1zM644,314h1v1h-1zM645,314h1v1h-1zM646,315h1v1h-1zM647,315h1v1h-1zM648,315h1v1h-1zM649,316h1v1h-1zM650,316h1v1h-1zM651,316h1v1h-1zM652,316h1v1h-1zM653,316h1v1h-1zM654,316h1v1h-1zM655,316h1v1h-1zM656,316h1v1h-1zM657,316h1v1h-1zM658,316h1v1h-1zM659,316h1v1h-1zM660,316h1v1h-1zM661,315h1v1h-1zM662,315h1v1h-1zM663,315h1v1h-1zM664,314h1v1h-1zM665,313h1v1h-1zM666,313h1v1h-1zM667,312h1v1h-1zM668,310h1v2h-1zM669,309h1v1h-1zM670,307h1v2h-1zM671,306h1v1h-1zM672,305h1v1h-1zM673,303h1v2h-1zM674,302h1v1h-1zM675,301h1v1h-1zM676,300h1v1h-1zM677,299h1v1h-1zM678,298h1v1h-1zM679,297h1v1h-1zM680,296h1v1h-1zM681,296h1v1h-1zM682,295h1v1h-1zM683,295h1v1h-1zM684,294h1v1h-1zM685,294h1v1h-1zM686,293h1v1h-1zM687,293h1v1h-1zM688,293h1v1h-1zM689,292h1v1h-1zM690,292h1v1h-1zM691,292h1v1h-1zM692,291h1v1h-1zM693,290h1v1h-1zM694,289h1v1h-1zM695,288h1v1h-1zM696,287h1v1h-1zM697,285h1v2h-1zM698,284h1v1h-1zM699,283h1v1h-1zM700,282h1v1h-1zM701,281h1v1h-1zM702,280h1v1h-1zM703,279h1v1h-1zM704,279h1v1h-1zM705,279h1v1h-1zM706,279h1v1h-1zM707,279h1v1h-1zM708,278h1v1h-1zM709,278h1v1h-1zM710,277h1v1h-1zM711,277h1v1h-1zM712,277h1v1h-1zM713,276h1v1h-1zM714,276h1v1h-1zM715,276h1v1h-1zM716,275h1v1h-1zM717,273h1v2h-1zM718,272h1v1h-1zM719,271h1v1h-1zM720,270h1v1h-1zM721,269h1v1h-1zM722,268h1v1h-1zM723,267h1v1h-1zM724,266h1v1h-1zM725,264h1v2h-1zM726,263h1v1h-1zM727,262h1v1h-1zM728,260h1v2h-1zM729,258h1v2h-1zM730,256h1v2h-1zM731,255h1v1h-1zM732,253h1v2h-1zM733,252h1v1h-1zM734,250h1v2h-1zM735,249h1v1h-1zM736,247h1v2h-1zM737,245h1v2h-1zM738,243h1v2h-1zM739,242h1v1h-1zM740,241h1v1h-1zM741,239h1v2h-1zM742,238h1v1h-1zM743,237h1v1h-1zM744,236h1v1h-1zM745,235h1v1h-1zM746,235h1v1h-1zM747,234h1v1h-1zM748,233h1v1h-1zM749,231h1v2h-1zM750,230h1v1h-1zM751,229h1v1h-1zM752,228h1v1h-1zM753,226h1v2h-1zM754,225h1v1h-1zM755,224h1v1h-1zM756,223h1v1h-1zM757,223h1v1h-1zM758,222h1v1h-1zM759,222h1v1h-1zM760,221h1v1h-1zM761,219h1v2h-1zM762,218h1v1h-1zM763,217h1v1h-1zM764,218h1v1h-1zM765,218h1v1h-1zM766,219h1v1h-1zM767,219h1v1h-1zM768,219h1v1h-1zM769,218h1v1h-1zM770,218h1v1h-1zM771,218h1v1h-1zM772,218h1v1h-1zM773,217h1v1h-1zM774,217h1v1h-1zM775,217h1v1h-1zM776,216h1v1h-1zM777,215h1v1h-1zM778,214h1v1h-1zM779,213h1v1h-1zM780,212h1v1h-1zM781,211h1v1h-1zM782,210h1v1h-1zM783,209h1v1h-1zM784,208h1v1h-1zM785,208h1v1h-1zM786,207h1v1h-1zM787,207h1v1h-1zM788,207h1v1h-1zM789,206h1v1h-1zM790,206h1v1h-1zM791,206h1v1h-1zM792,205h1v1h-1zM793,205h1v1h-1zM794,204h1v1h-1zM795,204h1v1h-1zM796,202h1v2h-1zM797,201h1v1h-1zM798,199h1v2h-1zM799,197h1v2h-1zM800,195h1v2h-1zM801,193h1v2h-1zM802,191h1v2h-1zM803,189h1v2h-1zM804,187h1v2h-1zM805,185h1v2h-1zM806,183h1v2h-1zM807,182h1v1h-1zM808,181h1v1h-1zM809,179h1v2h-1zM810,178h1v1h-1zM811,177h1v1h-1zM812,175h1v2h-1zM813,173h1v2h-1zM814,171h1v2h-1zM815,170h1v1h-1zM816,168h1v2h-1zM817,166h1v2h-1zM818,164h1v2h-1zM819,161h1v3h-1zM820,159h1v2h-1zM821,156h1v3h-1zM822,154h1v2h-1zM823,151h1v3h-1zM824,148h1v3h-1zM825,146h1v2h-1zM826,143h1v3h-1zM827,141h1v2h-1zM828,139h1v2h-1zM829,137h1v2h-1zM830,135h1v2h-1zM831,134h1v1h-1zM832,133h1v1h-1zM833,132h1v1h-1zM834,132h1v1h-1zM835,131h1v1h-1zM836,130h1v1h-1zM837,128h1v2h-1zM838,127h1v1h-1zM839,126h1v1h-1zM840,124h1v2h-1zM841,123h1v1h-1zM842,121h1v2h-1zM843,120h1v1h-1zM844,119h1v1h-1zM845,118h1v1h-1zM846,117h1v1h-1zM847,116h1v1h-1zM848,116h1v1h-1zM849,115h1v1h-1zM850,115h1v1h-1zM851,115h1v1h-1zM852,116h1v1h-1zM853,116h1v1h-1zM854,117h1v1h-1zM855,117h1v1h-1zM856,118h1v1h-1zM857,118h1v1h-1zM858,119h1v1h-1zM859,119h1v1h-1zM860,120h1v1h-1zM861,121h1v1h-1zM862,122h1v1h-1zM863,123h1v1h-1zM864,124h1v1h-1zM865,124h1v1h-1zM866,125h1v1h-1zM867,125h1v1h-1zM868,126h1v1h-1zM869,126h1v1h-1zM870,127h1v1h-1zM871,127h1v1h-1zM872,128h1v1h-1zM873,129h1v1h-1zM874,130h1v1h-1zM875,131h1v1h-1zM876,132h1v1h-1zM877,133h1v1h-1zM878,133h1v1h-1zM879,134h1v1h-1zM880,135h1v1h-1zM881,136h1v1h-1zM882,137h1v1h-1zM883,138h1v1h-1zM884,139h1v1h-1zM885,140h1v2h-1zM886,142h1v1h-1zM887,143h1v1h-1zM888,144h1v1h-1zM889,145h1v1h-1zM890,145h1v1h-1zM891,146h1v1h-1zM892,147h1v1h-1zM893,148h1v1h-1zM894,148h1v1h-1zM895,149h1v1h-1zM896,150h1v2h-1zM897,152h1v2h-1zM898,154h1v2h-1zM899,156h1v3h-1zM900,159h1v2h-1zM901,161h1v2h-1zM902,163h1v2h-1zM903,165h1v3h-1zM904,168h1v2h-1zM905,170h1v2h-1zM906,172h1v2h-1zM907,174h1v3h-1zM908,177h1v2h-1zM909,179h1v3h-1zM910,182h1v2h-1zM911,184h1v2h-1z" fill="#ff0000" shape-rendering="crispEdges"/>
<rect x="3" y="165" width="1" height="26" fill="#ff0000"/>
<rect x="2" y="165" width="3" height="25" fill="#ff0000"/>
<rect x="3" y="166" width="1" height="23" fill="#ff4a00"/>
<rect x="7" y="156" width="1" height="29" fill="#32cd32"/>
<rect x="6" y="170" width="3" height="9" fill="#32cd32"/>
<rect x="11" y="161" width="1" height="20" fill="#ff0000"/>
<rect x="10" y="168" width="3" height="11" fill="#ff0000"/>
<rect x="11" y="169" width="1" height="9" fill="#ff4a00"/>
<rect x="15" y="166" width="1" height="31" fill="#32cd32"/>
<rect x="14" y="166" width="3" height="29" fill="#32cd32"/>
<rect x="19" y="198" width="1" height="6" fill="#32cd32"/>
<rect x="18" y="198" width="3" height="3" fill="#32cd32"/>
<rect x="23" y="185" width="1" height="21" fill="#32cd32"/>
<rect x="22" y="200" width="3" height="5" fill="#32cd32"/>
<rect x="27" y="191" width="1" height="20" fill="#ff0000"/>
<rect x="26" y="196" width="3" height="9" fill="#ff0000"/>
<rect x="27" y="197" width="1" height="7" fill="#ff4a00"/>
<rect x="31" y="174" width="1" height="33" fill="#ff0000"/>
<rect x="30" y="183" width="3" height="19" fill="#ff0000"/>
<rect x="31" y="184" width="1" height="17" fill="#ff4a00"/>
<rect x="35" y="182" width="1" height="22" fill="#32cd32"/>
<rect x="34" y="183" width="3" height="15" fill="#32cd32"/>
<rect x="39" y="178" width="1" height="25" fill="#ff0000"/>
<rect x="38" y="181" width="3" height="17" fill="#ff0000"/>
<rect x="39" y="182" width="1" height="15" fill="#ff4a00"/>
<rect x="43" y="183" width="1" height="4" fill="#32cd32"/>
<rect x="42" y="183" width="3" height="3" fill="#32cd32"/>
<rect x="47" y="183" width="1" height="27" fill="#32cd32"/>
<rect x="46" y="185" width="3" height="15" fill="#32cd32"/>
<rect x="51" y="198" width="1" height="49" fill="#32cd32"/>
<rect x="50" y="198" width="3" height="44" fill="#32cd32"/>
<rect x="55" y="232" width="1" height="22" fill="#32cd32"/>
<rect x="54" y="239" width="3" height="14" fill="#32cd32"/>
<rect x="59" y="249" width="1" height="46" fill="#32cd32"/>
<rect x="58" y="249" width="3" height="45" fill="#32cd32"/>
<rect x="63" y="287" width="1" height="24" fill="#32cd32"/>
<rect x="62" y="292" width="3" height="6" fill="#32cd32"/>
<rect x="67" y="294" width="1" height="4" fill="#ff0000"/>
<rect x="66" y="295" width="3" height="2" fill="#ff0000"/>
<rect x="71" y="257" width="1" height="40" fill="#ff0000"/>
<rect x="70" y="261" width="3" height="36" fill="#ff0000"/>
<rect x="71" y="262" width="1" height="34" fill="#ff4a00"/>
<rect x="75" y="230" width="1" height="36" fill="#ff0000"/>
<rect x="74" y="242" width="3" height="23" fill="#ff0000"/>
<rect x="75" y="243" width="1" height="21" fill="#ff4a00"/>
<rect x="79" y="227" width="1" height="22" fill="#ff0000"/>
<rect x="78" y="228" width="3" height="16" fill="#ff0000"/>
<rect x="79" y="229" width="1" height="14" fill="#ff4a00"/>
<rect x="83" y="227" width="1" height="23" fill="#32cd32"/>
<rect x="82" y="228" width="3" height="21" fill="#32cd32"/>
<rect x="87" y="210" width="1" height="46" fill="#ff0000"/>
<rect x="86" y="211" width="3" height="38" fill="#ff0000"/>
<rect x="87" y="212" width="1" height="36" fill="#ff4a00"/>
<rect x="91" y="210" width="1" height="3" fill="#ff0000"/>
<rect x="90" y="210" width="3" height="3" fill="#ff0000"/>
<rect x="91" y="211" width="1" height="1" fill="#ff4a00"/>
<rect x="95" y="208" width="1" height="18" fill="#32cd32"/>
<rect x="94" y="210" width="3" height="13" fill="#32cd32"/>
<rect x="99" y="197" width="1" height="27" fill="#ff0000"/>
<rect x="98" y="209" width="3" height="14" fill="#ff0000"/>
<rect x="99" y="210" width="1" height="12" fill="#ff4a00"/>
<rect x="103" y="177" width="1" height="37" fill="#ff0000"/>
<rect x="102" y="185" width="3" height="25" fill="#ff0000"/>
<rect x="103" y="186" width="1" height="23" fill="#ff4a00"/>
<rect x="107" y="164" width="1" height="27" fill="#ff0000"/>
<rect x="106" y="170" width="3" height="17" fill="#ff0000"/>
<rect x="107" y="171" width="1" height="15" fill="#ff4a00"/>
<rect x="111" y="131" width="1" height="41" fill="#ff0000"/>
<rect x="110" y="140" width="3" height="31" fill="#ff0000"/>
<rect x="111" y="141" width="1" height="29" fill="#ff4a00"/>
<rect x="115" y="143" width="1" height="7" fill="#32cd32"/>
<rect x="114" y="144" width="3" height="5" fill="#32cd32"/>
<rect x="119" y="147" width="1" height="11" fill="#32cd32"/>
<rect x="118" y="148" width="3" height="5" fill="#32cd32"/>
<rect x="123" y="136" width="1" height="46" fill="#32cd32"/>
<rect x="122" y="151" width="3" height="25" fill="#32cd32"/>
<rect x="127" y="167" width="1" height="29" fill="#32cd32"/>
<rect x="126" y="174" width="3" height="16" fill="#32cd32"/>
<rect x="131" y="171" width="1" height="25" fill="#ff0000"/>
<rect x="130" y="184" width="3" height="6" fill="#ff0000"/>
<rect x="131" y="185" width="1" height="4" fill="#ff4a00"/>
<rect x="135" y="164" width="1" height="26" fill="#32cd32"/>
<rect x="134" y="184" width="3" height="4" fill="#32cd32"/>
<rect x="139" y="183" width="1" height="5" fill="#32cd32"/>
<rect x="138" y="184" width="3" height="3" fill="#32cd32"/>
<rect x="143" y="180" width="1" height="21" fill="#32cd32"/>
<rect x="142" y="185" width="3" height="3" fill="#32cd32"/>
<rect x="147" y="181" width="1" height="31" fill="#32cd32"/>
<rect x="146" y="185" width="3" height="26" fill="#32cd32"/>
<rect x="151" y="196" width="1" height="21" fill="#ff0000"/>
<rect x="150" y="196" width="3" height="15" fill="#ff0000"/>
<rect x="151" y="197" width="1" height="13" fill="#ff4a00"/>
<rect x="155" y="194" width="1" height="38" fill="#32cd32"/>
<rect x="154" y="196" width="3" height="27" fill="#32cd32"/>
<rect x="159" y="206" width="1" height="29" fill="#32cd32"/>
<rect x="158" y="222" width="3" height="10" fill="#32cd32"/>
<rect x="163" y="234" width="1" height="3" fill="#32cd32"/>
<rect x="162" y="234" width="3" height="3" fill="#32cd32"/>
<rect x="167" y="232" width="1" height="25" fill="#32cd32"/>
<rect x="166" y="235" width="3" height="4" fill="#32cd32"/>
<rect x="171" y="225" width="1" height="31" fill="#32cd32"/>
<rect x="170" y="237" width="3" height="17" fill="#32cd32"/>
<rect x="175" y="219" width="1" height="36" fill="#ff0000"/>
<rect x="174" y="249" width="3" height="5" fill="#ff0000"/>
<rect x="175" y="250" width="1" height="3" fill="#ff4a00"/>
<rect x="179" y="210" width="1" height="45" fill="#ff0000"/>
<rect x="178" y="219" width="3" height="32" fill="#ff0000"/>
<rect x="179" y="220" width="1" height="30" fill="#ff4a00"/>
<rect x="183" y="209" width="1" height="41" fill="#32cd32"/>
<rect x="182" y="218" width="3" height="21" fill="#32cd32"/>
<rect x="187" y="231" width="1" height="7" fill="#ff0000"/>
<rect x="186" y="234" width="3" height="4" fill="#ff0000"/>
<rect x="187" y="235" width="1" height="2" fill="#ff4a00"/>
<rect x="191" y="220" width="1" height="23" fill="#ff0000"/>
<rect x="190" y="227" width="3" height="8" fill="#ff0000"/>
<rect x="191" y="228" width="1" height="6" fill="#ff4a00"/>
<rect x="195" y="211" width="1" height="44" fill="#32cd32"/>
<rect x="194" y="226" width="3" height="19" fill="#32cd32"/>
<rect x="199" y="234" width="1" height="48" fill="#32cd32"/>
<rect x="198" y="244" width="3" height="33" fill="#32cd32"/>
<rect x="203" y="238" width="1" height="40" fill="#ff0000"/>
<rect x="202" y="251" width="3" height="26" fill="#ff0000"/>
<rect x="203" y="252" width="1" height="24" fill="#ff4a00"/>
<rect x="207" y="230" width="1" height="41" fill="#ff0000"/>
<rect x="206" y="233" width="3" height="21" fill="#ff0000"/>
<rect x="207" y="234" width="1" height="19" fill="#ff4a00"/>
<rect x="211" y="226" width="1" height="5" fill="#32cd32"/>
<rect x="210" y="228" width="3" height="3" fill="#32cd32"/>
<rect x="215" y="215" width="1" height="27" fill="#ff0000"/>
<rect x="214" y="222" width="3" height="9" fill="#ff0000"/>
<rect x="215" y="223" width="1" height="7" fill="#ff4a00"/>
<rect x="219" y="217" width="1" height="26" fill="#32cd32"/>
<rect x="218" y="223" width="3" height="2" fill="#32cd32"/>
<rect x="223" y="221" width="1" height="34" fill="#32cd32"/>
<rect x="222" y="223" width="3" height="5" fill="#32cd32"/>
<rect x="227" y="205" width="1" height="28" fill="#ff0000"/>
<rect x="226" y="209" width="3" height="19" fill="#ff0000"/>
<rect x="227" y="210" width="1" height="17" fill="#ff4a00"/>
<rect x="231" y="199" width="1" height="26" fill="#32cd32"/>
<rect x="230" y="209" width="3" height="4" fill="#32cd32"/>
<rect x="235" y="214" width="1" height="9" fill="#32cd32"/>
<rect x="234" y="215" width="3" height="7" fill="#32cd32"/>
<rect x="239" y="182" width="1" height="40" fill="#ff0000"/>
<rect x="238" y="194" width="3" height="27" fill="#ff0000"/>
<rect x="239" y="195" width="1" height="25" fill="#ff4a00"/>
<rect x="243" y="176" width="1" height="27" fill="#32cd32"/>
<rect x="242" y="194" width="3" height="9" fill="#32cd32"/>
<rect x="247" y="176" width="1" height="32" fill="#ff0000"/>
<rect x="246" y="176" width="3" height="27" fill="#ff0000"/>
<rect x="247" y="177" width="1" height="25" fill="#ff4a00"/>
<rect x="251" y="156" width="1" height="27" fill="#ff0000"/>
<rect x="250" y="162" width="3" height="17" fill="#ff0000"/>
<rect x="251" y="163" width="1" height="15" fill="#ff4a00"/>
<rect x="255" y="149" width="1" height="19" fill="#ff0000"/>
<rect x="254" y="159" width="3" height="5" fill="#ff0000"/>
<rect x="255" y="160" width="1" height="3" fill="#ff4a00"/>
<rect x="259" y="155" width="1" height="6" fill="#ff0000"/>
<rect x="258" y="157" width="3" height="3" fill="#ff0000"/>
<rect x="259" y="158" width="1" height="1" fill="#ff4a00"/>
<rect x="263" y="156" width="1" height="25" fill="#32cd32"/>
<rect x="262" y="156" width="3" height="6" fill="#32cd32"/>
<rect x="267" y="127" width="1" height="36" fill="#ff0000"/>
<rect x="266" y="132" width="3" height="30" fill="#ff0000"/>
<rect x="267" y="133" width="1" height="28" fill="#ff4a00"/>
<rect x="271" y="108" width="1" height="30" fill="#ff0000"/>
<rect x="270" y="113" width="3" height="21" fill="#ff0000"/>
<rect x="271" y="114" width="1" height="19" fill="#ff4a00"/>
<rect x="275" y="98" width="1" height="43" fill="#32cd32"/>
<rect x="274" y="113" width="3" height="28" fill="#32cd32"/>
<rect x="279" y="114" width="1" height="31" fill="#ff0000"/>
<rect x="278" y="137" width="3" height="3" fill="#ff0000"/>
<rect x="279" y="138" width="1" height="1" fill="#ff4a00"/>
<rect x="283" y="135" width="1" height="5" fill="#32cd32"/>
<rect x="282" y="135" width="3" height="3" fill="#32cd32"/>
<rect x="287" y="118" width="1" height="21" fill="#ff0000"/>
<rect x="286" y="125" width="3" height="11" fill="#ff0000"/>
<rect x="287" y="126" width="1" height="9" fill="#ff4a00"/>
<rect x="291" y="108" width="1" height="19" fill="#ff0000"/>
<rect x="290" y="114" width="3" height="11" fill="#ff0000"/>
<rect x="291" y="115" width="1" height="9" fill="#ff4a00"/>
<rect x="295" y="103" width="1" height="24" fill="#32cd32"/>
<rect x="294" y="114" width="3" height="7" fill="#32cd32"/>
<rect x="299" y="93" width="1" height="38" fill="#ff0000"/>
<rect x="298" y="105" width="3" height="16" fill="#ff0000"/>
<rect x="299" y="106" width="1" height="14" fill="#ff4a00"/>
<rect x="303" y="94" width="1" height="27" fill="#32cd32"/>
<rect x="302" y="105" width="3" height="4" fill="#32cd32"/>
<rect x="307" y="110" width="1" height="6" fill="#ff0000"/>
<rect x="306" y="112" width="3" height="3" fill="#ff0000"/>
<rect x="307" y="113" width="1" height="1" fill="#ff4a00"/>
<rect x="311" y="103" width="1" height="24" fill="#ff0000"/>
<rect x="310" y="111" width="3" height="2" fill="#ff0000"/>
<rect x="315" y="105" width="1" height="55" fill="#32cd32"/>
<rect x="314" y="110" width="3" height="42" fill="#32cd32"/>
<rect x="319" y="135" width="1" height="29" fill="#ff0000"/>
<rect x="318" y="135" width="3" height="18" fill="#ff0000"/>
<rect x="319" y="136" width="1" height="16" fill="#ff4a00"/>
<rect x="323" y="135" width="1" height="43" fill="#32cd32"/>
<rect x="322" y="135" width="3" height="32" fill="#32cd32"/>
<rect x="327" y="163" width="1" height="26" fill="#32cd32"/>
<rect x="326" y="166" width="3" height="7" fill="#32cd32"/>
<rect x="331" y="168" width="1" height="5" fill="#32cd32"/>
<rect x="330" y="169" width="3" height="3" fill="#32cd32"/>
<rect x="335" y="154" width="1" height="23" fill="#ff0000"/>
<rect x="334" y="162" width="3" height="10" fill="#ff0000"/>
<rect x="335" y="163" width="1" height="8" fill="#ff4a00"/>
<rect x="339" y="154" width="1" height="35" fill="#32cd32"/>
<rect x="338" y="162" width="3" height="19" fill="#32cd32"/>
<rect x="343" y="172" width="1" height="36" fill="#32cd32"/>
<rect x="342" y="180" width="3" height="23" fill="#32cd32"/>
<rect x="347" y="197" width="1" height="28" fill="#32cd32"/>
<rect x="346" y="201" width="3" height="24" fill="#32cd32"/>
<rect x="351" y="201" width="1" height="29" fill="#ff0000"/>
<rect x="350" y="203" width="3" height="21" fill="#ff0000"/>
<rect x="351" y="204" width="1" height="19" fill="#ff4a00"/>
<rect x="355" y="201" width="1" height="4" fill="#ff0000"/>
<rect x="354" y="202" width="3" height="3" fill="#ff0000"/>
<rect x="355" y="203" width="1" height="1" fill="#ff4a00"/>
<rect x="359" y="183" width="1" height="25" fill="#ff0000"/>
<rect x="358" y="195" width="3" height="9" fill="#ff0000"/>
<rect x="359" y="196" width="1" height="7" fill="#ff4a00"/>
<rect x="363" y="184" width="1" height="38" fill="#32cd32"/>
<rect x="362" y="195" width="3" height="24" fill="#32cd32"/>
<rect x="367" y="216" width="1" height="19" fill="#32cd32"/>
<rect x="366" y="217" width="3" height="17" fill="#32cd32"/>
<rect x="371" y="220" width="1" height="22" fill="#ff0000"/>
<rect x="370" y="229" width="3" height="5" fill="#ff0000"/>
<rect x="371" y="230" width="1" height="3" fill="#ff4a00"/>
<rect x="375" y="221" width="1" height="32" fill="#32cd32"/>
<rect x="374" y="229" width="3" height="22" fill="#32cd32"/>
<rect x="379" y="248" width="1" height="6" fill="#ff0000"/>
<rect x="378" y="250" width="3" height="3" fill="#ff0000"/>
<rect x="379" y="251" width="1" height="1" fill="#ff4a00"/>
<rect x="383" y="230" width="1" height="27" fill="#32cd32"/>
<rect x="382" y="250" width="3" height="2" fill="#32cd32"/>
<rect x="387" y="248" width="1" height="15" fill="#32cd32"/>
<rect x="386" y="252" width="3" height="5" fill="#32cd32"/>
<rect x="391" y="252" width="1" height="23" fill="#32cd32"/>
<rect x="390" y="255" width="3" height="12" fill="#32cd32"/>
<rect x="395" y="261" width="1" height="20" fill="#32cd32"/>
<rect x="394" y="265" width="3" height="16" fill="#32cd32"/>
<rect x="399" y="276" width="1" height="34" fill="#32cd32"/>
<rect x="398" y="278" width="3" height="30" fill="#32cd32"/>
<rect x="403" y="292" width="1" height="15" fill="#ff0000"/>
<rect x="402" y="293" width="3" height="14" fill="#ff0000"/>
<rect x="403" y="294" width="1" height="12" fill="#ff4a00"/>
<rect x="407" y="284" width="1" height="25" fill="#ff0000"/>
<rect x="406" y="292" width="3" height="3" fill="#ff0000"/>
<rect x="407" y="293" width="1" height="1" fill="#ff4a00"/>
<rect x="411" y="280" width="1" height="54" fill="#32cd32"/>
<rect x="410" y="292" width="3" height="12" fill="#32cd32"/>
<rect x="415" y="279" width="1" height="39" fill="#32cd32"/>
<rect x="414" y="302" width="3" height="10" fill="#32cd32"/>
<rect x="419" y="304" width="1" height="20" fill="#32cd32"/>
<rect x="418" y="310" width="3" height="13" fill="#32cd32"/>
<rect x="423" y="319" width="1" height="47" fill="#32cd32"/>
<rect x="422" y="320" width="3" height="45" fill="#32cd32"/>
<rect x="427" y="352" width="1" height="12" fill="#ff0000"/>
<rect x="426" y="354" width="3" height="10" fill="#ff0000"/>
<rect x="427" y="355" width="1" height="8" fill="#ff4a00"/>
<rect x="431" y="336" width="1" height="24" fill="#ff0000"/>
<rect x="430" y="338" width="3" height="17" fill="#ff0000"/>
<rect x="431" y="339" width="1" height="15" fill="#ff4a00"/>
<rect x="435" y="302" width="1" height="43" fill="#ff0000"/>
<rect x="434" y="302" width="3" height="38" fill="#ff0000"/>
<rect x="435" y="303" width="1" height="36" fill="#ff4a00"/>
<rect x="439" y="273" width="1" height="34" fill="#ff0000"/>
<rect x="438" y="281" width="3" height="24" fill="#ff0000"/>
<rect x="439" y="282" width="1" height="22" fill="#ff4a00"/>
<rect x="443" y="272" width="1" height="26" fill="#32cd32"/>
<rect x="442" y="281" width="3" height="13" fill="#32cd32"/>
<rect x="447" y="274" width="1" height="26" fill="#ff0000"/>
<rect x="446" y="281" width="3" height="11" fill="#ff0000"/>
<rect x="447" y="282" width="1" height="9" fill="#ff4a00"/>
<rect x="451" y="281" width="1" height="6" fill="#ff0000"/>
<rect x="450" y="283" width="3" height="2" fill="#ff0000"/>
<rect x="455" y="278" width="1" height="32" fill="#32cd32"/>
<rect x="454" y="282" width="3" height="19" fill="#32cd32"/>
<rect x="459" y="297" width="1" height="23" fill="#32cd32"/>
<rect x="458" y="299" width="3" height="14" fill="#32cd32"/>
<rect x="463" y="276" width="1" height="43" fill="#ff0000"/>
<rect x="462" y="282" width="3" height="31" fill="#ff0000"/>
<rect x="463" y="283" width="1" height="29" fill="#ff4a00"/>
<rect x="467" y="254" width="1" height="39" fill="#ff0000"/>
<rect x="466" y="279" width="3" height="4" fill="#ff0000"/>
<rect x="467" y="280" width="1" height="2" fill="#ff4a00"/>
<rect x="471" y="274" width="1" height="26" fill="#32cd32"/>
<rect x="470" y="277" width="3" height="22" fill="#32cd32"/>
<rect x="475" y="300" width="1" height="11" fill="#32cd32"/>
<rect x="474" y="300" width="3" height="7" fill="#32cd32"/>
<rect x="479" y="300" width="1" height="23" fill="#32cd32"/>
<rect x="478" y="304" width="3" height="7" fill="#32cd32"/>
<rect x="483" y="287" width="1" height="30" fill="#ff0000"/>
<rect x="482" y="291" width="3" height="20" fill="#ff0000"/>
<rect x="483" y="292" width="1" height="18" fill="#ff4a00"/>
<rect x="487" y="256" width="1" height="49" fill="#ff0000"/>
<rect x="486" y="260" width="3" height="33" fill="#ff0000"/>
<rect x="487" y="261" width="1" height="31" fill="#ff4a00"/>
<rect x="491" y="241" width="1" height="27" fill="#ff0000"/>
<rect x="490" y="250" width="3" height="11" fill="#ff0000"/>
<rect x="491" y="251" width="1" height="9" fill="#ff4a00"/>
<rect x="495" y="244" width="1" height="16" fill="#32cd32"/>
<rect x="494" y="250" width="3" height="3" fill="#32cd32"/>
<rect x="499" y="247" width="1" height="5" fill="#000"/>
<rect x="498" y="251" width="3" height="1" fill="#000"/>
<rect x="503" y="244" width="1" height="21" fill="#ff0000"/>
<rect x="502" y="248" width="3" height="4" fill="#ff0000"/>
<rect x="503" y="249" width="1" height="2" fill="#ff4a00"/>
<rect x="507" y="235" width="1" height="22" fill="#32cd32"/>
<rect x="506" y="248" width="3" height="3" fill="#32cd32"/>
<rect x="511" y="230" width="1" height="31" fill="#ff0000"/>
<rect x="510" y="238" width="3" height="13" fill="#ff0000"/>
<rect x="511" y="239" width="1" height="11" fill="#ff4a00"/>
<rect x="515" y="229" width="1" height="16" fill="#32cd32"/>
<rect x="514" y="238" width="3" height="6" fill="#32cd32"/>
<rect x="519" y="228" width="1" height="17" fill="#ff0000"/>
<rect x="518" y="231" width="3" height="13" fill="#ff0000"/>
<rect x="519" y="232" width="1" height="11" fill="#ff4a00"/>
<rect x="523" y="229" width="1" height="6" fill="#ff0000"/>
<rect x="522" y="231" width="3" height="1" fill="#ff0000"/>
<rect x="527" y="228" width="1" height="47" fill="#32cd32"/>
<rect x="526" y="233" width="3" height="37" fill="#32cd32"/>
<rect x="531" y="242" width="1" height="33" fill="#ff0000"/>
<rect x="530" y="247" width="3" height="23" fill="#ff0000"/>
<rect x="531" y="248" width="1" height="21" fill="#ff4a00"/>
<rect x="535" y="230" width="1" height="30" fill="#32cd32"/>
<rect x="534" y="247" width="3" height="10" fill="#32cd32"/>
<rect x="539" y="255" width="1" height="38" fill="#32cd32"/>
<rect x="538" y="255" width="3" height="31" fill="#32cd32"/>
<rect x="543" y="272" width="1" height="28" fill="#ff0000"/>
<rect x="542" y="273" width="3" height="13" fill="#ff0000"/>
<rect x="543" y="274" width="1" height="11" fill="#ff4a00"/>
<rect x="547" y="274" width="1" height="9" fill="#ff0000"/>
<rect x="546" y="276" width="3" height="2" fill="#ff0000"/>
<rect x="551" y="264" width="1" height="27" fill="#ff0000"/>
<rect x="550" y="275" width="3" height="3" fill="#ff0000"/>
<rect x="551" y="276" width="1" height="1" fill="#ff4a00"/>
<rect x="555" y="259" width="1" height="29" fill="#ff0000"/>
<rect x="554" y="260" width="3" height="17" fill="#ff0000"/>
<rect x="555" y="261" width="1" height="15" fill="#ff4a00"/>
<rect x="559" y="221" width="1" height="46" fill="#ff0000"/>
<rect x="558" y="226" width="3" height="35" fill="#ff0000"/>
<rect x="559" y="227" width="1" height="33" fill="#ff4a00"/>
<rect x="563" y="210" width="1" height="21" fill="#ff0000"/>
<rect x="562" y="226" width="3" height="3" fill="#ff0000"/>
<rect x="563" y="227" width="1" height="1" fill="#ff4a00"/>
<rect x="567" y="220" width="1" height="48" fill="#32cd32"/>
<rect x="566" y="228" width="3" height="36" fill="#32cd32"/>
<rect x="571" y="257" width="1" height="7" fill="#ff0000"/>
<rect x="570" y="258" width="3" height="3" fill="#ff0000"/>
<rect x="571" y="259" width="1" height="1" fill="#ff4a00"/>
<rect x="575" y="251" width="1" height="19" fill="#32cd32"/>
<rect x="574" y="258" width="3" height="3" fill="#32cd32"/>
<rect x="579" y="252" width="1" height="29" fill="#32cd32"/>
<rect x="578" y="260" width="3" height="14" fill="#32cd32"/>
<rect x="583" y="247" width="1" height="32" fill="#ff0000"/>
<rect x="582" y="258" width="3" height="14" fill="#ff0000"/>
<rect x="583" y="259" width="1" height="12" fill="#ff4a00"/>
<rect x="587" y="228" width="1" height="37" fill="#32cd32"/>
<rect x="586" y="257" width="3" height="3" fill="#32cd32"/>
<rect x="591" y="255" width="1" height="25" fill="#32cd32"/>
<rect x="590" y="256" width="3" height="23" fill="#32cd32"/>
<rect x="595" y="271" width="1" height="9" fill="#ff0000"/>
<rect x="594" y="272" width="3" height="7" fill="#ff0000"/>
<rect x="595" y="273" width="1" height="5" fill="#ff4a00"/>
<rect x="599" y="272" width="1" height="48" fill="#32cd32"/>
<rect x="598" y="272" width="3" height="18" fill="#32cd32"/>
<rect x="603" y="277" width="1" height="27" fill="#ff0000"/>
<rect x="602" y="286" width="3" height="3" fill="#ff0000"/>
<rect x="603" y="287" width="1" height="1" fill="#ff4a00"/>
<rect x="607" y="275" width="1" height="43" fill="#32cd32"/>
<rect x="606" y="285" width="3" height="20" fill="#32cd32"/>
<rect x="611" y="303" width="1" height="50" fill="#32cd32"/>
<rect x="610" y="304" width="3" height="43" fill="#32cd32"/>
<rect x="615" y="340" width="1" height="39" fill="#32cd32"/>
<rect x="614" y="345" width="3" height="27" fill="#32cd32"/>
<rect x="619" y="364" width="1" height="6" fill="#ff0000"/>
<rect x="618" y="364" width="3" height="3" fill="#ff0000"/>
<rect x="619" y="365" width="1" height="1" fill="#ff4a00"/>
<rect x="623" y="325" width="1" height="42" fill="#ff0000"/>
<rect x="622" y="329" width="3" height="37" fill="#ff0000"/>
<rect x="623" y="330" width="1" height="35" fill="#ff4a00"/>
<rect x="627" y="295" width="1" height="53" fill="#ff0000"/>
<rect x="626" y="298" width="3" height="33" fill="#ff0000"/>
<rect x="627" y="299" width="1" height="31" fill="#ff4a00"/>
<rect x="631" y="285" width="1" height="22" fill="#32cd32"/>
<rect x="630" y="297" width="3" height="9" fill="#32cd32"/>
<rect x="635" y="281" width="1" height="30" fill="#ff0000"/>
<rect x="634" y="293" width="3" height="13" fill="#ff0000"/>
<rect x="635" y="294" width="1" height="11" fill="#ff4a00"/>
<rect x="639" y="288" width="1" height="51" fill="#32cd32"/>
<rect x="638" y="290" width="3" height="38" fill="#32cd32"/>
<rect x="643" y="322" width="1" height="5" fill="#32cd32"/>
<rect x="642" y="323" width="3" height="3" fill="#32cd32"/>
<rect x="647" y="299" width="1" height="34" fill="#ff0000"/>
<rect x="646" y="300" width="3" height="25" fill="#ff0000"/>
<rect x="647" y="301" width="1" height="23" fill="#ff4a00"/>
<rect x="651" y="289" width="1" height="24" fill="#ff0000"/>
<rect x="650" y="291" width="3" height="11" fill="#ff0000"/>
<rect x="651" y="292" width="1" height="9" fill="#ff4a00"/>
<rect x="655" y="268" width="1" height="27" fill="#ff0000"/>
<rect x="654" y="277" width="3" height="17" fill="#ff0000"/>
<rect x="655" y="278" width="1" height="15" fill="#ff4a00"/>
<rect x="659" y="241" width="1" height="52" fill="#32cd32"/>
<rect x="658" y="277" width="3" height="9" fill="#32cd32"/>
<rect x="663" y="273" width="1" height="38" fill="#32cd32"/>
<rect x="662" y="284" width="3" height="20" fill="#32cd32"/>
<rect x="667" y="290" width="1" height="11" fill="#ff0000"/>
<rect x="666" y="291" width="3" height="8" fill="#ff0000"/>
<rect x="667" y="292" width="1" height="6" fill="#ff4a00"/>
<rect x="671" y="290" width="1" height="33" fill="#32cd32"/>
<rect x="670" y="291" width="3" height="8" fill="#32cd32"/>
<rect x="675" y="286" width="1" height="29" fill="#ff0000"/>
<rect x="674" y="291" width="3" height="8" fill="#ff0000"/>
<rect x="675" y="292" width="1" height="6" fill="#ff4a00"/>
<rect x="679" y="262" width="1" height="33" fill="#ff0000"/>
<rect x="678" y="269" width="3" height="25" fill="#ff0000"/>
<rect x="679" y="270" width="1" height="23" fill="#ff4a00"/>
<rect x="683" y="257" width="1" height="28" fill="#32cd32"/>
<rect x="682" y="269" width="3" height="4" fill="#32cd32"/>
<rect x="687" y="252" width="1" height="31" fill="#32cd32"/>
<rect x="686" y="272" width="3" height="3" fill="#32cd32"/>
<rect x="691" y="276" width="1" height="7" fill="#32cd32"/>
<rect x="690" y="278" width="3" height="2" fill="#32cd32"/>
<rect x="695" y="255" width="1" height="27" fill="#ff0000"/>
<rect x="694" y="273" width="3" height="8" fill="#ff0000"/>
<rect x="695" y="274" width="1" height="6" fill="#ff4a00"/>
<rect x="699" y="250" width="1" height="27" fill="#ff0000"/>
<rect x="698" y="253" width="3" height="22" fill="#ff0000"/>
<rect x="699" y="254" width="1" height="20" fill="#ff4a00"/>
<rect x="703" y="225" width="1" height="32" fill="#ff0000"/>
<rect x="702" y="252" width="3" height="3" fill="#ff0000"/>
<rect x="703" y="253" width="1" height="1" fill="#ff4a00"/>
<rect x="707" y="251" width="1" height="67" fill="#32cd32"/>
<rect x="706" y="252" width="3" height="35" fill="#32cd32"/>
<rect x="711" y="247" width="1" height="49" fill="#ff0000"/>
<rect x="710" y="250" width="3" height="43" fill="#ff0000"/>
<rect x="711" y="251" width="1" height="41" fill="#ff4a00"/>
<rect x="715" y="271" width="1" height="11" fill="#ff0000"/>
<rect x="714" y="272" width="3" height="5" fill="#ff0000"/>
<rect x="715" y="273" width="1" height="3" fill="#ff4a00"/>
<rect x="719" y="233" width="1" height="50" fill="#ff0000"/>
<rect x="718" y="237" width="3" height="38" fill="#ff0000"/>
<rect x="719" y="238" width="1" height="36" fill="#ff4a00"/>
<rect x="723" y="222" width="1" height="26" fill="#ff0000"/>
<rect x="722" y="236" width="3" height="3" fill="#ff0000"/>
<rect x="723" y="237" width="1" height="1" fill="#ff4a00"/>
<rect x="727" y="214" width="1" height="31" fill="#ff0000"/>
<rect x="726" y="221" width="3" height="16" fill="#ff0000"/>
<rect x="727" y="222" width="1" height="14" fill="#ff4a00"/>
<rect x="731" y="194" width="1" height="36" fill="#ff0000"/>
<rect x="730" y="200" width="3" height="22" fill="#ff0000"/>
<rect x="731" y="201" width="1" height="20" fill="#ff4a00"/>
<rect x="735" y="178" width="1" height="41" fill="#ff0000"/>
<rect x="734" y="182" width="3" height="20" fill="#ff0000"/>
<rect x="735" y="183" width="1" height="18" fill="#ff4a00"/>
<rect x="739" y="170" width="1" height="22" fill="#ff0000"/>
<rect x="738" y="172" width="3" height="13" fill="#ff0000"/>
<rect x="739" y="173" width="1" height="11" fill="#ff4a00"/>
<rect x="743" y="149" width="1" height="65" fill="#32cd32"/>
<rect x="742" y="172" width="3" height="32" fill="#32cd32"/>
<rect x="747" y="194" width="1" height="51" fill="#32cd32"/>
<rect x="746" y="203" width="3" height="32" fill="#32cd32"/>
<rect x="751" y="199" width="1" height="36" fill="#ff0000"/>
<rect x="750" y="209" width="3" height="26" fill="#ff0000"/>
<rect x="751" y="210" width="1" height="24" fill="#ff4a00"/>
<rect x="755" y="184" width="1" height="41" fill="#ff0000"/>
<rect x="754" y="186" width="3" height="24" fill="#ff0000"/>
<rect x="755" y="187" width="1" height="22" fill="#ff4a00"/>
<rect x="759" y="185" width="1" height="38" fill="#32cd32"/>
<rect x="758" y="185" width="3" height="36" fill="#32cd32"/>
<rect x="763" y="218" width="1" height="7" fill="#ff0000"/>
<rect x="762" y="219" width="3" height="5" fill="#ff0000"/>
<rect x="763" y="220" width="1" height="3" fill="#ff4a00"/>
<rect x="767" y="218" width="1" height="56" fill="#32cd32"/>
<rect x="766" y="218" width="3" height="50" fill="#32cd32"/>
<rect x="771" y="252" width="1" height="31" fill="#32cd32"/>
<rect x="770" y="266" width="3" height="6" fill="#32cd32"/>
<rect x="775" y="219" width="1" height="58" fill="#ff0000"/>
<rect x="774" y="224" width="3" height="48" fill="#ff0000"/>
<rect x="775" y="225" width="1" height="46" fill="#ff4a00"/>
<rect x="779" y="172" width="1" height="55" fill="#ff0000"/>
<rect x="778" y="178" width="3" height="47" fill="#ff0000"/>
<rect x="779" y="179" width="1" height="45" fill="#ff4a00"/>
<rect x="783" y="160" width="1" height="30" fill="#ff0000"/>
<rect x="782" y="165" width="3" height="15" fill="#ff0000"/>
<rect x="783" y="166" width="1" height="13" fill="#ff4a00"/>
<rect x="787" y="162" width="1" height="6" fill="#ff0000"/>
<rect x="786" y="164" width="3" height="2" fill="#ff0000"/>
<rect x="791" y="157" width="1" height="26" fill="#32cd32"/>
<rect x="790" y="164" width="3" height="8" fill="#32cd32"/>
<rect x="795" y="132" width="1" height="49" fill="#ff0000"/>
<rect x="794" y="139" width="3" height="33" fill="#ff0000"/>
<rect x="795" y="140" width="1" height="31" fill="#ff4a00"/>
<rect x="799" y="117" width="1" height="28" fill="#ff0000"/>
<rect x="798" y="121" width="3" height="19" fill="#ff0000"/>
<rect x="799" y="122" width="1" height="17" fill="#ff4a00"/>
<rect x="803" y="107" width="1" height="32" fill="#ff0000"/>
<rect x="802" y="115" width="3" height="8" fill="#ff0000"/>
<rect x="803" y="116" width="1" height="6" fill="#ff4a00"/>
<rect x="807" y="102" width="1" height="23" fill="#ff0000"/>
<rect x="806" y="110" width="3" height="7" fill="#ff0000"/>
<rect x="807" y="111" width="1" height="5" fill="#ff4a00"/>
<rect x="811" y="110" width="1" height="6" fill="#ff0000"/>
<rect x="810" y="112" width="3" height="2" fill="#ff0000"/>
<rect x="815" y="101" width="1" height="38" fill="#32cd32"/>
<rect x="814" y="112" width="3" height="12" fill="#32cd32"/>
<rect x="819" y="108" width="1" height="36" fill="#ff0000"/>
<rect x="818" y="113" width="3" height="11" fill="#ff0000"/>
<rect x="819" y="114" width="1" height="9" fill="#ff4a00"/>
<rect x="823" y="102" width="1" height="23" fill="#32cd32"/>
<rect x="822" y="114" width="3" height="7" fill="#32cd32"/>
<rect x="827" y="108" width="1" height="29" fill="#32cd32"/>
<rect x="826" y="119" width="3" height="7" fill="#32cd32"/>
<rect x="831" y="108" width="1" height="27" fill="#ff0000"/>
<rect x="830" y="122" width="3" height="3" fill="#ff0000"/>
<rect x="831" y="123" width="1" height="1" fill="#ff4a00"/>
<rect x="835" y="125" width="1" height="5" fill="#32cd32"/>
<rect x="834" y="126" width="3" height="3" fill="#32cd32"/>
<rect x="839" y="94" width="1" height="36" fill="#ff0000"/>
<rect x="838" y="98" width="3" height="31" fill="#ff0000"/>
<rect x="839" y="99" width="1" height="29" fill="#ff4a00"/>
<rect x="843" y="42" width="1" height="63" fill="#ff0000"/>
<rect x="842" y="79" width="3" height="23" fill="#ff0000"/>
<rect x="843" y="80" width="1" height="21" fill="#ff4a00"/>
<rect x="847" y="75" width="1" height="54" fill="#32cd32"/>
<rect x="846" y="78" width="3" height="41" fill="#32cd32"/>
<rect x="851" y="114" width="1" height="24" fill="#32cd32"/>
<rect x="850" y="117" width="3" height="16" fill="#32cd32"/>
<rect x="855" y="124" width="1" height="34" fill="#32cd32"/>
<rect x="854" y="131" width="3" height="11" fill="#32cd32"/>
<rect x="859" y="139" width="1" height="10" fill="#32cd32"/>
<rect x="858" y="139" width="3" height="10" fill="#32cd32"/>
<rect x="863" y="139" width="1" height="26" fill="#32cd32"/>
<rect x="862" y="147" width="3" height="18" fill="#32cd32"/>
<rect x="867" y="123" width="1" height="47" fill="#ff0000"/>
<rect x="866" y="143" width="3" height="22" fill="#ff0000"/>
<rect x="867" y="144" width="1" height="20" fill="#ff4a00"/>
<rect x="871" y="133" width="1" height="42" fill="#32cd32"/>
<rect x="870" y="143" width="3" height="3" fill="#32cd32"/>
<rect x="875" y="136" width="1" height="36" fill="#32cd32"/>
<rect x="874" y="143" width="3" height="24" fill="#32cd32"/>
<rect x="879" y="162" width="1" height="13" fill="#32cd32"/>
<rect x="878" y="165" width="3" height="10" fill="#32cd32"/>
<rect x="883" y="167" width="1" height="7" fill="#32cd32"/>
<rect x="882" y="168" width="3" height="4" fill="#32cd32"/>
<rect x="887" y="170" width="1" height="28" fill="#32cd32"/>
<rect x="886" y="170" width="3" height="23" fill="#32cd32"/>
<rect x="891" y="168" width="1" height="28" fill="#ff0000"/>
<rect x="890" y="172" width="3" height="20" fill="#ff0000"/>
<rect x="891" y="173" width="1" height="18" fill="#ff4a00"/>
<rect x="895" y="141" width="1" height="43" fill="#ff0000"/>
<rect x="894" y="148" width="3" height="25" fill="#ff0000"/>
<rect x="895" y="149" width="1" height="23" fill="#ff4a00"/>
<rect x="899" y="141" width="1" height="49" fill="#32cd32"/>
<rect x="898" y="148" width="3" height="42" fill="#32cd32"/>
<rect x="903" y="183" width="1" height="67" fill="#32cd32"/>
<rect x="902" y="188" width="3" height="61" fill="#32cd32"/>
<rect x="907" y="244" width="1" height="8" fill="#32cd32"/>
<rect x="906" y="245" width="3" height="6" fill="#32cd32"/>
<rect x="911" y="249" width="1" height="50" fill="#32cd32"/>
<rect x="910" y="249" width="3" height="28" fill="#32cd32"/>
</g>
<path d="M6,35.5 L13,35.5 L9.5,31 Z" fill="#000"/>
<text x="18.2" y="36" font-size="9.3" fill="#000" textLength="69.5" lengthAdjust="spacingAndGlyphs">AUDUSD-,Daily</text>
<text x="92.9" y="36" font-size="9.3" fill="#000" textLength="33.4" lengthAdjust="spacingAndGlyphs">0.72313</text>
<text x="128.6" y="36" font-size="9.3" fill="#000" textLength="33.3" lengthAdjust="spacingAndGlyphs">0.72327</text>
<text x="164.7" y="36" font-size="9.3" fill="#000" textLength="32.8" lengthAdjust="spacingAndGlyphs">0.71341</text>
<text x="201" y="36" font-size="9.3" fill="#000" textLength="32.7" lengthAdjust="spacingAndGlyphs">0.71790</text>
<rect x="4" y="43" width="223" height="59" fill="#fff"/>
<rect x="6" y="44" width="52" height="24" fill="url(#gtop)"/>
<rect x="173" y="44" width="52" height="24" fill="url(#gtop)"/>
<rect x="6" y="68" width="109" height="33" fill="url(#gbot)"/>
<rect x="117" y="68" width="108" height="33" fill="url(#gbot)"/>
<rect x="10" y="67" width="45" height="1" fill="#a00000"/>
<rect x="10" y="68" width="45" height="1" fill="#f07474"/>
<rect x="177" y="67" width="45" height="1" fill="#a00000"/>
<rect x="177" y="68" width="45" height="1" fill="#f07474"/>
<text x="17.6" y="60" font-size="12" fill="#fff" textLength="26.6" lengthAdjust="spacingAndGlyphs">SELL</text>
<text x="186.5" y="60" font-size="12" fill="#fff" textLength="24" lengthAdjust="spacingAndGlyphs">BUY</text>
<rect x="60" y="44" width="111" height="22" fill="#aeb0b6"/>
<rect x="61" y="45" width="109" height="20" fill="#fff"/>
<rect x="81" y="45" width="1" height="20" fill="#aeb0b6"/>
<rect x="149" y="45" width="1" height="20" fill="#aeb0b6"/>
<rect x="62" y="46" width="18" height="18" fill="url(#gbtn)"/>
<rect x="151" y="46" width="18" height="18" fill="url(#gbtn)"/>
<path d="M67.5,53 L73.5,53 L70.5,56 Z" fill="#4d6bc6"/>
<path d="M157,56 L163,56 L160,53 Z" fill="#4d6bc6"/>
<text x="146.5" y="58.5" font-size="11.5" fill="#000" text-anchor="end">2.00</text>
<text x="25.5" y="96" font-size="12" fill="#fff" textLength="24" lengthAdjust="spacingAndGlyphs" font-weight="bold">0.71</text>
<text x="53.5" y="96" font-size="33" fill="#fff" textLength="35.5" lengthAdjust="spacingAndGlyphs">79</text>
<text x="92.8" y="80" font-size="11" fill="#fff" textLength="7.5" lengthAdjust="spacingAndGlyphs" font-weight="bold">0</text>
<text x="135.5" y="96" font-size="12" fill="#fff" textLength="24" lengthAdjust="spacingAndGlyphs" font-weight="bold">0.71</text>
<text x="164.5" y="96" font-size="33" fill="#fff" textLength="35.5" lengthAdjust="spacingAndGlyphs">81</text>
<text x="203.6" y="80" font-size="11" fill="#fff" textLength="7.5" lengthAdjust="spacingAndGlyphs" font-weight="bold">0</text>
<rect x="1150" y="54" width="2" height="1" fill="#000"/>
<text x="1154.8" y="58" font-size="9.3" fill="#000" textLength="33.4" lengthAdjust="spacingAndGlyphs">0.76370</text>
<rect x="1150" y="87" width="2" height="1" fill="#000"/>
<text x="1154.8" y="91" font-size="9.3" fill="#000" textLength="33.4" lengthAdjust="spacingAndGlyphs">0.75670</text>
<rect x="1150" y="120" width="2" height="1" fill="#000"/>
<text x="1154.8" y="124" font-size="9.3" fill="#000" textLength="33.4" lengthAdjust="spacingAndGlyphs">0.74990</text>
<rect x="1150" y="153" width="2" height="1" fill="#000"/>
<text x="1154.8" y="157" font-size="9.3" fill="#000" textLength="33.4" lengthAdjust="spacingAndGlyphs">0.74310</text>
<rect x="1150" y="186" width="2" height="1" fill="#000"/>
<text x="1154.8" y="190" font-size="9.3" fill="#000" textLength="33.4" lengthAdjust="spacingAndGlyphs">0.73630</text>
<rect x="1150" y="219" width="2" height="1" fill="#000"/>
<text x="1154.8" y="223" font-size="9.3" fill="#000" textLength="33.4" lengthAdjust="spacingAndGlyphs">0.72950</text>
<rect x="1150" y="252" width="2" height="1" fill="#000"/>
<text x="1154.8" y="256" font-size="9.3" fill="#000" textLength="33.4" lengthAdjust="spacingAndGlyphs">0.72270</text>
<rect x="1150" y="285" width="2" height="1" fill="#000"/>
<text x="1154.8" y="289" font-size="9.3" fill="#000" textLength="33.4" lengthAdjust="spacingAndGlyphs">0.71590</text>
<rect x="1150" y="318" width="2" height="1" fill="#000"/>
<text x="1154.8" y="322" font-size="9.3" fill="#000" textLength="33.4" lengthAdjust="spacingAndGlyphs">0.70910</text>
<rect x="1150" y="351" width="2" height="1" fill="#000"/>
<text x="1154.8" y="355" font-size="9.3" fill="#000" textLength="33.4" lengthAdjust="spacingAndGlyphs">0.70230</text>
<rect x="1150" y="385" width="2" height="1" fill="#000"/>
<text x="1154.8" y="389" font-size="9.3" fill="#000" textLength="33.4" lengthAdjust="spacingAndGlyphs">0.69550</text>
<rect x="1151" y="89" width="41" height="11" fill="#ff0000"/>
<text x="1154.8" y="98" font-size="9.3" fill="#fff" textLength="33.4" lengthAdjust="spacingAndGlyphs">0.75512</text>
<rect x="1151" y="162" width="41" height="11" fill="#ff0000"/>
<text x="1154.8" y="171" font-size="9.3" fill="#fff" textLength="33.4" lengthAdjust="spacingAndGlyphs">0.74002</text>
<rect x="1151" y="235" width="41" height="11" fill="#00ff00"/>
<text x="1154.8" y="244" font-size="9.3" fill="#fff" textLength="33.4" lengthAdjust="spacingAndGlyphs">0.72504</text>
<rect x="1151" y="307" width="41" height="11" fill="#0000cd"/>
<text x="1154.8" y="316" font-size="9.3" fill="#fff" textLength="33.4" lengthAdjust="spacingAndGlyphs">0.71013</text>
<rect x="1151" y="376" width="41" height="11" fill="#0000ff"/>
<text x="1154.8" y="385" font-size="9.3" fill="#fff" textLength="33.4" lengthAdjust="spacingAndGlyphs">0.69582</text>
<rect x="1151" y="270" width="41" height="11" fill="#000"/>
<text x="1154.8" y="279" font-size="9.3" fill="#fff" textLength="33.4" lengthAdjust="spacingAndGlyphs">0.71790</text>
<rect x="2" y="389" width="1148" height="1" fill="#000"/>
<rect x="2" y="455" width="1148" height="1" fill="#000"/>
<rect x="2" y="389" width="1" height="67" fill="#000"/>
<rect x="1149" y="389" width="1" height="67" fill="#000"/>
<g clip-path="url(#cmacd)">
<rect x="2" y="420" width="3" height="16" fill="#c0c0c0"/>
<rect x="6" y="420" width="3" height="15" fill="#c0c0c0"/>
<rect x="10" y="420" width="3" height="14" fill="#c0c0c0"/>
<rect x="14" y="420" width="3" height="14" fill="#c0c0c0"/>
<rect x="18" y="420" width="3" height="14" fill="#c0c0c0"/>
<rect x="22" y="420" width="3" height="15" fill="#c0c0c0"/>
<rect x="26" y="420" width="3" height="14" fill="#c0c0c0"/>
<rect x="30" y="420" width="3" height="13" fill="#c0c0c0"/>
<rect x="34" y="420" width="3" height="13" fill="#c0c0c0"/>
<rect x="38" y="420" width="3" height="12" fill="#c0c0c0"/>
<rect x="42" y="420" width="3" height="11" fill="#c0c0c0"/>
<rect x="46" y="420" width="3" height="11" fill="#c0c0c0"/>
<rect x="50" y="420" width="3" height="13" fill="#c0c0c0"/>
<rect x="54" y="420" width="3" height="16" fill="#c0c0c0"/>
<rect x="58" y="420" width="3" height="20" fill="#c0c0c0"/>
<rect x="62" y="420" width="3" height="23" fill="#c0c0c0"/>
<rect x="66" y="420" width="3" height="25" fill="#c0c0c0"/>
<rect x="70" y="420" width="3" height="25" fill="#c0c0c0"/>
<rect x="74" y="420" width="3" height="23" fill="#c0c0c0"/>
<rect x="78" y="420" width="3" height="20" fill="#c0c0c0"/>
<rect x="82" y="420" width="3" height="19" fill="#c0c0c0"/>
<rect x="86" y="420" width="3" height="16" fill="#c0c0c0"/>
<rect x="90" y="420" width="3" height="13" fill="#c0c0c0"/>
<rect x="94" y="420" width="3" height="11" fill="#c0c0c0"/>
<rect x="98" y="420" width="3" height="9" fill="#c0c0c0"/>
<rect x="102" y="420" width="3" height="6" fill="#c0c0c0"/>
<rect x="106" y="420" width="3" height="2" fill="#c0c0c0"/>
<rect x="110" y="418" width="3" height="2" fill="#c0c0c0"/>
<rect x="114" y="415" width="3" height="5" fill="#c0c0c0"/>
<rect x="118" y="413" width="3" height="7" fill="#c0c0c0"/>
<rect x="122" y="412" width="3" height="8" fill="#c0c0c0"/>
<rect x="126" y="413" width="3" height="7" fill="#c0c0c0"/>
<rect x="130" y="414" width="3" height="6" fill="#c0c0c0"/>
<rect x="134" y="414" width="3" height="6" fill="#c0c0c0"/>
<rect x="138" y="415" width="3" height="5" fill="#c0c0c0"/>
<rect x="142" y="415" width="3" height="5" fill="#c0c0c0"/>
<rect x="146" y="417" width="3" height="3" fill="#c0c0c0"/>
<rect x="150" y="417" width="3" height="3" fill="#c0c0c0"/>
<rect x="154" y="419" width="3" height="1" fill="#c0c0c0"/>
<rect x="158" y="420" width="3" height="2" fill="#c0c0c0"/>
<rect x="162" y="420" width="3" height="4" fill="#c0c0c0"/>
<rect x="166" y="420" width="3" height="5" fill="#c0c0c0"/>
<rect x="170" y="420" width="3" height="7" fill="#c0c0c0"/>
<rect x="174" y="420" width="3" height="9" fill="#c0c0c0"/>
<rect x="178" y="420" width="3" height="8" fill="#c0c0c0"/>
<rect x="182" y="420" width="3" height="8" fill="#c0c0c0"/>
<rect x="186" y="420" width="3" height="8" fill="#c0c0c0"/>
<rect x="190" y="420" width="3" height="8" fill="#c0c0c0"/>
<rect x="194" y="420" width="3" height="8" fill="#c0c0c0"/>
<rect x="198" y="420" width="3" height="10" fill="#c0c0c0"/>
<rect x="202" y="420" width="3" height="11" fill="#c0c0c0"/>
<rect x="206" y="420" width="3" height="9" fill="#c0c0c0"/>
<rect x="210" y="420" width="3" height="8" fill="#c0c0c0"/>
<rect x="214" y="420" width="3" height="7" fill="#c0c0c0"/>
<rect x="218" y="420" width="3" height="6" fill="#c0c0c0"/>
<rect x="222" y="420" width="3" height="5" fill="#c0c0c0"/>
<rect x="226" y="420" width="3" height="3" fill="#c0c0c0"/>
<rect x="230" y="420" width="3" height="2" fill="#c0c0c0"/>
<rect x="234" y="420" width="3" height="2" fill="#c0c0c0"/>
<rect x="238" y="419" width="3" height="1" fill="#c0c0c0"/>
<rect x="242" y="419" width="3" height="1" fill="#c0c0c0"/>
<rect x="246" y="416" width="3" height="4" fill="#c0c0c0"/>
<rect x="250" y="414" width="3" height="6" fill="#c0c0c0"/>
<rect x="254" y="411" width="3" height="9" fill="#c0c0c0"/>
<rect x="258" y="410" width="3" height="10" fill="#c0c0c0"/>
<rect x="262" y="409" width="3" height="11" fill="#c0c0c0"/>
<rect x="266" y="406" width="3" height="14" fill="#c0c0c0"/>
<rect x="270" y="403" width="3" height="17" fill="#c0c0c0"/>
<rect x="274" y="403" width="3" height="17" fill="#c0c0c0"/>
<rect x="278" y="403" width="3" height="17" fill="#c0c0c0"/>
<rect x="282" y="403" width="3" height="17" fill="#c0c0c0"/>
<rect x="286" y="402" width="3" height="18" fill="#c0c0c0"/>
<rect x="290" y="401" width="3" height="19" fill="#c0c0c0"/>
<rect x="294" y="401" width="3" height="19" fill="#c0c0c0"/>
<rect x="298" y="400" width="3" height="20" fill="#c0c0c0"/>
<rect x="302" y="400" width="3" height="20" fill="#c0c0c0"/>
<rect x="306" y="400" width="3" height="20" fill="#c0c0c0"/>
<rect x="310" y="401" width="3" height="19" fill="#c0c0c0"/>
<rect x="314" y="404" width="3" height="16" fill="#c0c0c0"/>
<rect x="318" y="405" width="3" height="15" fill="#c0c0c0"/>
<rect x="322" y="408" width="3" height="12" fill="#c0c0c0"/>
<rect x="326" y="411" width="3" height="9" fill="#c0c0c0"/>
<rect x="330" y="414" width="3" height="6" fill="#c0c0c0"/>
<rect x="334" y="415" width="3" height="5" fill="#c0c0c0"/>
<rect x="338" y="417" width="3" height="3" fill="#c0c0c0"/>
<rect x="342" y="420" width="3" height="1" fill="#c0c0c0"/>
<rect x="346" y="420" width="3" height="4" fill="#c0c0c0"/>
<rect x="350" y="420" width="3" height="6" fill="#c0c0c0"/>
<rect x="354" y="420" width="3" height="7" fill="#c0c0c0"/>
<rect x="358" y="420" width="3" height="7" fill="#c0c0c0"/>
<rect x="362" y="420" width="3" height="9" fill="#c0c0c0"/>
<rect x="366" y="420" width="3" height="11" fill="#c0c0c0"/>
<rect x="370" y="420" width="3" height="12" fill="#c0c0c0"/>
<rect x="374" y="420" width="3" height="14" fill="#c0c0c0"/>
<rect x="378" y="420" width="3" height="16" fill="#c0c0c0"/>
<rect x="382" y="420" width="3" height="17" fill="#c0c0c0"/>
<rect x="386" y="420" width="3" height="18" fill="#c0c0c0"/>
<rect x="390" y="420" width="3" height="19" fill="#c0c0c0"/>
<rect x="394" y="420" width="3" height="20" fill="#c0c0c0"/>
<rect x="398" y="420" width="3" height="23" fill="#c0c0c0"/>
<rect x="402" y="420" width="3" height="24" fill="#c0c0c0"/>
<rect x="406" y="420" width="3" height="24" fill="#c0c0c0"/>
<rect x="410" y="420" width="3" height="25" fill="#c0c0c0"/>
<rect x="414" y="420" width="3" height="26" fill="#c0c0c0"/>
<rect x="418" y="420" width="3" height="27" fill="#c0c0c0"/>
<rect x="422" y="420" width="3" height="30" fill="#c0c0c0"/>
<rect x="426" y="420" width="3" height="31" fill="#c0c0c0"/>
<rect x="430" y="420" width="3" height="31" fill="#c0c0c0"/>
<rect x="434" y="420" width="3" height="28" fill="#c0c0c0"/>
<rect x="438" y="420" width="3" height="24" fill="#c0c0c0"/>
<rect x="442" y="420" width="3" height="22" fill="#c0c0c0"/>
<rect x="446" y="420" width="3" height="19" fill="#c0c0c0"/>
<rect x="450" y="420" width="3" height="17" fill="#c0c0c0"/>
<rect x="454" y="420" width="3" height="16" fill="#c0c0c0"/>
<rect x="458" y="420" width="3" height="15" fill="#c0c0c0"/>
<rect x="462" y="420" width="3" height="13" fill="#c0c0c0"/>
<rect x="466" y="420" width="3" height="11" fill="#c0c0c0"/>
<rect x="470" y="420" width="3" height="11" fill="#c0c0c0"/>
<rect x="474" y="420" width="3" height="10" fill="#c0c0c0"/>
<rect x="478" y="420" width="3" height="10" fill="#c0c0c0"/>
<rect x="482" y="420" width="3" height="9" fill="#c0c0c0"/>
<rect x="486" y="420" width="3" height="6" fill="#c0c0c0"/>
<rect x="490" y="420" width="3" height="3" fill="#c0c0c0"/>
<rect x="494" y="420" width="3" height="1" fill="#c0c0c0"/>
<rect x="498" y="419" width="3" height="1" fill="#c0c0c0"/>
<rect x="502" y="418" width="3" height="2" fill="#c0c0c0"/>
<rect x="506" y="417" width="3" height="3" fill="#c0c0c0"/>
<rect x="510" y="415" width="3" height="5" fill="#c0c0c0"/>
<rect x="514" y="414" width="3" height="6" fill="#c0c0c0"/>
<rect x="518" y="413" width="3" height="7" fill="#c0c0c0"/>
<rect x="522" y="412" width="3" height="8" fill="#c0c0c0"/>
<rect x="526" y="414" width="3" height="6" fill="#c0c0c0"/>
<rect x="530" y="414" width="3" height="6" fill="#c0c0c0"/>
<rect x="534" y="414" width="3" height="6" fill="#c0c0c0"/>
<rect x="538" y="416" width="3" height="4" fill="#c0c0c0"/>
<rect x="542" y="418" width="3" height="2" fill="#c0c0c0"/>
<rect x="546" y="419" width="3" height="1" fill="#c0c0c0"/>
<rect x="550" y="419" width="3" height="1" fill="#c0c0c0"/>
<rect x="554" y="419" width="3" height="1" fill="#c0c0c0"/>
<rect x="558" y="417" width="3" height="3" fill="#c0c0c0"/>
<rect x="562" y="415" width="3" height="5" fill="#c0c0c0"/>
<rect x="566" y="416" width="3" height="4" fill="#c0c0c0"/>
<rect x="570" y="417" width="3" height="3" fill="#c0c0c0"/>
<rect x="574" y="417" width="3" height="3" fill="#c0c0c0"/>
<rect x="578" y="418" width="3" height="2" fill="#c0c0c0"/>
<rect x="582" y="419" width="3" height="1" fill="#c0c0c0"/>
<rect x="586" y="419" width="3" height="1" fill="#c0c0c0"/>
<rect x="590" y="419" width="3" height="1" fill="#c0c0c0"/>
<rect x="594" y="420" width="3" height="1" fill="#c0c0c0"/>
<rect x="598" y="420" width="3" height="2" fill="#c0c0c0"/>
<rect x="602" y="420" width="3" height="3" fill="#c0c0c0"/>
<rect x="606" y="420" width="3" height="5" fill="#c0c0c0"/>
<rect x="610" y="420" width="3" height="9" fill="#c0c0c0"/>
<rect x="614" y="420" width="3" height="13" fill="#c0c0c0"/>
<rect x="618" y="420" width="3" height="16" fill="#c0c0c0"/>
<rect x="622" y="420" width="3" height="16" fill="#c0c0c0"/>
<rect x="626" y="420" width="3" height="14" fill="#c0c0c0"/>
<rect x="630" y="420" width="3" height="13" fill="#c0c0c0"/>
<rect x="634" y="420" width="3" height="11" fill="#c0c0c0"/>
<rect x="638" y="420" width="3" height="11" fill="#c0c0c0"/>
<rect x="642" y="420" width="3" height="11" fill="#c0c0c0"/>
<rect x="646" y="420" width="3" height="10" fill="#c0c0c0"/>
<rect x="650" y="420" width="3" height="8" fill="#c0c0c0"/>
<rect x="654" y="420" width="3" height="5" fill="#c0c0c0"/>
<rect x="658" y="420" width="3" height="4" fill="#c0c0c0"/>
<rect x="662" y="420" width="3" height="4" fill="#c0c0c0"/>
<rect x="666" y="420" width="3" height="3" fill="#c0c0c0"/>
<rect x="670" y="420" width="3" height="3" fill="#c0c0c0"/>
<rect x="674" y="420" width="3" height="2" fill="#c0c0c0"/>
<rect x="678" y="420" width="3" height="1" fill="#c0c0c0"/>
<rect x="682" y="419" width="3" height="1" fill="#c0c0c0"/>
<rect x="686" y="418" width="3" height="2" fill="#c0c0c0"/>
<rect x="690" y="418" width="3" height="2" fill="#c0c0c0"/>
<rect x="694" y="417" width="3" height="3" fill="#c0c0c0"/>
<rect x="698" y="415" width="3" height="5" fill="#c0c0c0"/>
<rect x="702" y="414" width="3" height="6" fill="#c0c0c0"/>
<rect x="706" y="415" width="3" height="5" fill="#c0c0c0"/>
<rect x="710" y="414" width="3" height="6" fill="#c0c0c0"/>
<rect x="714" y="414" width="3" height="6" fill="#c0c0c0"/>
<rect x="718" y="413" width="3" height="7" fill="#c0c0c0"/>
<rect x="722" y="411" width="3" height="9" fill="#c0c0c0"/>
<rect x="726" y="409" width="3" height="11" fill="#c0c0c0"/>
<rect x="730" y="407" width="3" height="13" fill="#c0c0c0"/>
<rect x="734" y="404" width="3" height="16" fill="#c0c0c0"/>
<rect x="738" y="401" width="3" height="19" fill="#c0c0c0"/>
<rect x="742" y="401" width="3" height="19" fill="#c0c0c0"/>
<rect x="746" y="403" width="3" height="17" fill="#c0c0c0"/>
<rect x="750" y="404" width="3" height="16" fill="#c0c0c0"/>
<rect x="754" y="403" width="3" height="17" fill="#c0c0c0"/>
<rect x="758" y="404" width="3" height="16" fill="#c0c0c0"/>
<rect x="762" y="405" width="3" height="15" fill="#c0c0c0"/>
<rect x="766" y="409" width="3" height="11" fill="#c0c0c0"/>
<rect x="770" y="413" width="3" height="7" fill="#c0c0c0"/>
<rect x="774" y="413" width="3" height="7" fill="#c0c0c0"/>
<rect x="778" y="410" width="3" height="10" fill="#c0c0c0"/>
<rect x="782" y="407" width="3" height="13" fill="#c0c0c0"/>
<rect x="786" y="405" width="3" height="15" fill="#c0c0c0"/>
<rect x="790" y="404" width="3" height="16" fill="#c0c0c0"/>
<rect x="794" y="402" width="3" height="18" fill="#c0c0c0"/>
<rect x="798" y="399" width="3" height="21" fill="#c0c0c0"/>
<rect x="802" y="397" width="3" height="23" fill="#c0c0c0"/>
<rect x="806" y="395" width="3" height="25" fill="#c0c0c0"/>
<rect x="810" y="394" width="3" height="26" fill="#c0c0c0"/>
<rect x="814" y="394" width="3" height="26" fill="#c0c0c0"/>
<rect x="818" y="394" width="3" height="26" fill="#c0c0c0"/>
<rect x="822" y="394" width="3" height="26" fill="#c0c0c0"/>
<rect x="826" y="395" width="3" height="25" fill="#c0c0c0"/>
<rect x="830" y="396" width="3" height="24" fill="#c0c0c0"/>
<rect x="834" y="397" width="3" height="23" fill="#c0c0c0"/>
<rect x="838" y="397" width="3" height="23" fill="#c0c0c0"/>
<rect x="842" y="396" width="3" height="24" fill="#c0c0c0"/>
<rect x="846" y="397" width="3" height="23" fill="#c0c0c0"/>
<rect x="850" y="400" width="3" height="20" fill="#c0c0c0"/>
<rect x="854" y="402" width="3" height="18" fill="#c0c0c0"/>
<rect x="858" y="405" width="3" height="15" fill="#c0c0c0"/>
<rect x="862" y="408" width="3" height="12" fill="#c0c0c0"/>
<rect x="866" y="410" width="3" height="10" fill="#c0c0c0"/>
<rect x="870" y="411" width="3" height="9" fill="#c0c0c0"/>
<rect x="874" y="413" width="3" height="7" fill="#c0c0c0"/>
<rect x="878" y="416" width="3" height="4" fill="#c0c0c0"/>
<rect x="882" y="418" width="3" height="2" fill="#c0c0c0"/>
<rect x="886" y="420" width="3" height="1" fill="#c0c0c0"/>
<rect x="890" y="420" width="3" height="1" fill="#c0c0c0"/>
<rect x="894" y="420" width="3" height="1" fill="#c0c0c0"/>
<rect x="898" y="420" width="3" height="2" fill="#c0c0c0"/>
<rect x="902" y="420" width="3" height="7" fill="#c0c0c0"/>
<rect x="906" y="420" width="3" height="11" fill="#c0c0c0"/>
<rect x="910" y="420" width="3" height="16" fill="#c0c0c0"/>
<path d="M3,439h1v1h-1zM4,439h1v1h-1zM5,438h1v1h-1zM6,438h1v1h-1zM7,438h1v1h-1zM8,438h1v1h-1zM9,438h1v1h-1zM10,438h1v1h-1zM11,438h1v1h-1zM12,438h1v1h-1zM13,437h1v1h-1zM14,437h1v1h-1zM15,437h1v1h-1zM16,437h1v1h-1zM17,436h1v1h-1zM18,436h1v1h-1zM19,436h1v1h-1zM20,436h1v1h-1zM21,436h1v1h-1zM22,436h1v1h-1zM23,436h1v1h-1zM24,436h1v1h-1zM25,435h1v1h-1zM26,435h1v1h-1zM27,435h1v1h-1zM28,435h1v1h-1zM29,435h1v1h-1zM30,435h1v1h-1zM31,435h1v1h-1zM32,435h1v1h-1zM33,434h1v1h-1zM34,434h1v1h-1zM35,434h1v1h-1zM36,434h1v1h-1zM37,434h1v1h-1zM38,434h1v1h-1zM39,434h1v1h-1zM40,434h1v1h-1zM41,433h1v1h-1zM42,433h1v1h-1zM43,433h1v1h-1zM44,433h1v1h-1zM45,433h1v1h-1zM46,433h1v1h-1zM47,433h1v1h-1zM48,433h1v1h-1zM49,433h1v1h-1zM50,433h1v1h-1zM51,433h1v1h-1zM52,433h1v1h-1zM53,433h1v1h-1zM54,433h1v1h-1zM55,433h1v1h-1zM56,433h1v1h-1zM57,434h1v1h-1zM58,434h1v1h-1zM59,434h1v1h-1zM60,434h1v1h-1zM61,435h1v1h-1zM62,435h1v1h-1zM63,435h1v1h-1zM64,435h1v1h-1zM65,436h1v1h-1zM66,436h1v1h-1zM67,436h1v1h-1zM68,436h1v1h-1zM69,437h1v1h-1zM70,437h1v1h-1zM71,437h1v1h-1zM72,437h1v1h-1zM73,438h1v1h-1zM74,438h1v1h-1zM75,438h1v1h-1zM76,438h1v1h-1zM77,439h1v1h-1zM78,439h1v1h-1zM79,439h1v1h-1zM80,439h1v1h-1zM81,440h1v1h-1zM82,440h1v1h-1zM83,440h1v1h-1zM84,440h1v1h-1zM85,441h1v1h-1zM86,441h1v1h-1zM87,441h1v1h-1zM88,441h1v1h-1zM89,440h1v1h-1zM90,440h1v1h-1zM91,440h1v1h-1zM92,440h1v1h-1zM93,439h1v1h-1zM94,439h1v1h-1zM95,439h1v1h-1zM96,439h1v1h-1zM97,438h1v1h-1zM98,438h1v1h-1zM99,438h1v1h-1zM100,437h1v1h-1zM101,437h1v1h-1zM102,436h1v1h-1zM103,436h1v1h-1zM104,435h1v1h-1zM105,434h1v1h-1zM106,434h1v1h-1zM107,433h1v1h-1zM108,432h1v1h-1zM109,431h1v1h-1zM110,431h1v1h-1zM111,430h1v1h-1zM112,429h1v1h-1zM113,429h1v1h-1zM114,428h1v1h-1zM115,428h1v1h-1zM116,427h1v1h-1zM117,426h1v1h-1zM118,426h1v1h-1zM119,425h1v1h-1zM120,424h1v1h-1zM121,423h1v1h-1zM122,423h1v1h-1zM123,422h1v1h-1zM124,421h1v1h-1zM125,421h1v1h-1zM126,420h1v1h-1zM127,420h1v1h-1zM128,419h1v1h-1zM129,419h1v1h-1zM130,418h1v1h-1zM131,418h1v1h-1zM132,417h1v1h-1zM133,417h1v1h-1zM134,416h1v1h-1zM135,416h1v1h-1zM136,416h1v1h-1zM137,415h1v1h-1zM138,415h1v1h-1zM139,415h1v1h-1zM140,415h1v1h-1zM141,414h1v1h-1zM142,414h1v1h-1zM143,414h1v1h-1zM144,414h1v1h-1zM145,414h1v1h-1zM146,414h1v1h-1zM147,414h1v1h-1zM148,414h1v1h-1zM149,414h1v1h-1zM150,414h1v1h-1zM151,414h1v1h-1zM152,414h1v1h-1zM153,415h1v1h-1zM154,415h1v1h-1zM155,415h1v1h-1zM156,415h1v1h-1zM157,416h1v1h-1zM158,416h1v1h-1zM159,416h1v1h-1zM160,416h1v1h-1zM161,417h1v1h-1zM162,417h1v1h-1zM163,417h1v1h-1zM164,418h1v1h-1zM165,418h1v1h-1zM166,419h1v1h-1zM167,419h1v1h-1zM168,419h1v1h-1zM169,420h1v1h-1zM170,420h1v1h-1zM171,420h1v1h-1zM172,421h1v1h-1zM173,421h1v1h-1zM174,422h1v1h-1zM175,422h1v1h-1zM176,422h1v1h-1zM177,423h1v1h-1zM178,423h1v1h-1zM179,423h1v1h-1zM180,423h1v1h-1zM181,424h1v1h-1zM182,424h1v1h-1zM183,424h1v1h-1zM184,425h1v1h-1zM185,425h1v1h-1zM186,426h1v1h-1zM187,426h1v1h-1zM188,426h1v1h-1zM189,427h1v1h-1zM190,427h1v1h-1zM191,427h1v1h-1zM192,427h1v1h-1zM193,427h1v1h-1zM194,427h1v1h-1zM195,427h1v1h-1zM196,427h1v1h-1zM197,428h1v1h-1zM198,428h1v1h-1zM199,428h1v1h-1zM200,428h1v1h-1zM201,429h1v1h-1zM202,429h1v1h-1zM203,429h1v1h-1zM204,429h1v1h-1zM205,429h1v1h-1zM206,429h1v1h-1zM207,429h1v1h-1zM208,429h1v1h-1zM209,429h1v1h-1zM210,429h1v1h-1zM211,429h1v1h-1zM212,429h1v1h-1zM213,429h1v1h-1zM214,429h1v1h-1zM215,429h1v1h-1zM216,429h1v1h-1zM217,428h1v1h-1zM218,428h1v1h-1zM219,428h1v1h-1zM220,428h1v1h-1zM221,428h1v1h-1zM222,428h1v1h-1zM223,428h1v1h-1zM224,428h1v1h-1zM225,427h1v1h-1zM226,427h1v1h-1zM227,427h1v1h-1zM228,427h1v1h-1zM229,427h1v1h-1zM230,427h1v1h-1zM231,427h1v1h-1zM232,427h1v1h-1zM233,426h1v1h-1zM234,426h1v1h-1zM235,426h1v1h-1zM236,426h1v1h-1zM237,425h1v1h-1zM238,425h1v1h-1zM239,425h1v1h-1zM240,424h1v1h-1zM241,424h1v1h-1zM242,423h1v1h-1zM243,423h1v1h-1zM244,423h1v1h-1zM245,422h1v1h-1zM246,422h1v1h-1zM247,422h1v1h-1zM248,422h1v1h-1zM249,421h1v1h-1zM250,421h1v1h-1zM251,421h1v1h-1zM252,420h1v1h-1zM253,420h1v1h-1zM254,419h1v1h-1zM255,419h1v1h-1zM256,418h1v1h-1zM257,418h1v1h-1zM258,417h1v1h-1zM259,417h1v1h-1zM260,417h1v1h-1zM261,416h1v1h-1zM262,416h1v1h-1zM263,416h1v1h-1zM264,415h1v1h-1zM265,415h1v1h-1zM266,414h1v1h-1zM267,414h1v1h-1zM268,413h1v1h-1zM269,413h1v1h-1zM270,412h1v1h-1zM271,412h1v1h-1zM272,411h1v1h-1zM273,411h1v1h-1zM274,410h1v1h-1zM275,410h1v1h-1zM276,409h1v1h-1zM277,409h1v1h-1zM278,408h1v1h-1zM279,408h1v1h-1zM280,408h1v1h-1zM281,407h1v1h-1zM282,407h1v1h-1zM283,407h1v1h-1zM284,406h1v1h-1zM285,406h1v1h-1zM286,405h1v1h-1zM287,405h1v1h-1zM288,405h1v1h-1zM289,404h1v1h-1zM290,404h1v1h-1zM291,404h1v1h-1zM292,404h1v1h-1zM293,403h1v1h-1zM294,403h1v1h-1zM295,403h1v1h-1zM296,403h1v1h-1zM297,402h1v1h-1zM298,402h1v1h-1zM299,402h1v1h-1zM300,402h1v1h-1zM301,402h1v1h-1zM302,402h1v1h-1zM303,402h1v1h-1zM304,402h1v1h-1zM305,401h1v1h-1zM306,401h1v1h-1zM307,401h1v1h-1zM308,401h1v1h-1zM309,401h1v1h-1zM310,401h1v1h-1zM311,401h1v1h-1zM312,401h1v1h-1zM313,401h1v1h-1zM314,401h1v1h-1zM315,401h1v1h-1zM316,401h1v1h-1zM317,402h1v1h-1zM318,402h1v1h-1zM319,402h1v1h-1zM320,402h1v1h-1zM321,402h1v1h-1zM322,402h1v1h-1zM323,402h1v1h-1zM324,402h1v1h-1zM325,403h1v1h-1zM326,403h1v1h-1zM327,403h1v1h-1zM328,404h1v1h-1zM329,404h1v1h-1zM330,405h1v1h-1zM331,405h1v1h-1zM332,406h1v1h-1zM333,406h1v1h-1zM334,407h1v1h-1zM335,407h1v1h-1zM336,407h1v1h-1zM337,408h1v1h-1zM338,408h1v1h-1zM339,408h1v1h-1zM340,409h1v1h-1zM341,410h1v1h-1zM342,410h1v1h-1zM343,411h1v1h-1zM344,412h1v1h-1zM345,412h1v1h-1zM346,413h1v1h-1zM347,413h1v1h-1zM348,414h1v1h-1zM349,415h1v1h-1zM350,415h1v1h-1zM351,416h1v1h-1zM352,417h1v1h-1zM353,417h1v1h-1zM354,418h1v1h-1zM355,418h1v1h-1zM356,419h1v1h-1zM357,419h1v1h-1zM358,420h1v1h-1zM359,420h1v1h-1zM360,421h1v1h-1zM361,421h1v1h-1zM362,422h1v1h-1zM363,422h1v1h-1zM364,423h1v1h-1zM365,423h1v1h-1zM366,424h1v1h-1zM367,424h1v1h-1zM368,425h1v1h-1zM369,425h1v1h-1zM370,426h1v1h-1zM371,426h1v1h-1zM372,427h1v1h-1zM373,427h1v1h-1zM374,428h1v1h-1zM375,428h1v1h-1zM376,429h1v1h-1zM377,429h1v1h-1zM378,430h1v1h-1zM379,430h1v1h-1zM380,430h1v1h-1zM381,431h1v1h-1zM382,431h1v1h-1zM383,431h1v1h-1zM384,431h1v1h-1zM385,432h1v1h-1zM386,432h1v1h-1zM387,432h1v1h-1zM388,433h1v1h-1zM389,433h1v1h-1zM390,434h1v1h-1zM391,434h1v1h-1zM392,434h1v1h-1zM393,435h1v1h-1zM394,435h1v1h-1zM395,435h1v1h-1zM396,436h1v1h-1zM397,436h1v1h-1zM398,437h1v1h-1zM399,437h1v1h-1zM400,437h1v1h-1zM401,438h1v1h-1zM402,438h1v1h-1zM403,438h1v1h-1zM404,438h1v1h-1zM405,439h1v1h-1zM406,439h1v1h-1zM407,439h1v1h-1zM408,440h1v1h-1zM409,440h1v1h-1zM410,441h1v1h-1zM411,441h1v1h-1zM412,441h1v1h-1zM413,442h1v1h-1zM414,442h1v1h-1zM415,442h1v1h-1zM416,442h1v1h-1zM417,443h1v1h-1zM418,443h1v1h-1zM419,443h1v1h-1zM420,443h1v1h-1zM421,444h1v1h-1zM422,444h1v1h-1zM423,444h1v1h-1zM424,444h1v1h-1zM425,445h1v1h-1zM426,445h1v1h-1zM427,445h1v1h-1zM428,446h1v1h-1zM429,446h1v1h-1zM430,447h1v1h-1zM431,447h1v1h-1zM432,447h1v1h-1zM433,447h1v1h-1zM434,447h1v1h-1zM435,447h1v1h-1zM436,447h1v1h-1zM437,447h1v1h-1zM438,447h1v1h-1zM439,447h1v1h-1zM440,447h1v1h-1zM441,447h1v1h-1zM442,447h1v1h-1zM443,447h1v1h-1zM444,447h1v1h-1zM445,446h1v1h-1zM446,446h1v1h-1zM447,446h1v1h-1zM448,446h1v1h-1zM449,445h1v1h-1zM450,445h1v1h-1zM451,445h1v1h-1zM452,445h1v1h-1zM453,444h1v1h-1zM454,444h1v1h-1zM455,444h1v1h-1zM456,443h1v1h-1zM457,443h1v1h-1zM458,442h1v1h-1zM459,442h1v1h-1zM460,442h1v1h-1zM461,441h1v1h-1zM462,441h1v1h-1zM463,441h1v1h-1zM464,440h1v1h-1zM465,439h1v1h-1zM466,439h1v1h-1zM467,438h1v1h-1zM468,437h1v1h-1zM469,437h1v1h-1zM470,436h1v1h-1zM471,436h1v1h-1zM472,436h1v1h-1zM473,435h1v1h-1zM474,435h1v1h-1zM475,435h1v1h-1zM476,435h1v1h-1zM477,434h1v1h-1zM478,434h1v1h-1zM479,434h1v1h-1zM480,434h1v1h-1zM481,433h1v1h-1zM482,433h1v1h-1zM483,433h1v1h-1zM484,432h1v1h-1zM485,432h1v1h-1zM486,431h1v1h-1zM487,431h1v1h-1zM488,431h1v1h-1zM489,430h1v1h-1zM490,430h1v1h-1zM491,430h1v1h-1zM492,429h1v1h-1zM493,429h1v1h-1zM494,428h1v1h-1zM495,428h1v1h-1zM496,428h1v1h-1zM497,427h1v1h-1zM498,427h1v1h-1zM499,427h1v1h-1zM500,426h1v1h-1zM501,426h1v1h-1zM502,425h1v1h-1zM503,425h1v1h-1zM504,425h1v1h-1zM505,424h1v1h-1zM506,424h1v1h-1zM507,424h1v1h-1zM508,423h1v1h-1zM509,423h1v1h-1zM510,422h1v1h-1zM511,422h1v1h-1zM512,421h1v1h-1zM513,421h1v1h-1zM514,420h1v1h-1zM515,420h1v1h-1zM516,420h1v1h-1zM517,419h1v1h-1zM518,419h1v1h-1zM519,419h1v1h-1zM520,418h1v1h-1zM521,418h1v1h-1zM522,417h1v1h-1zM523,417h1v1h-1zM524,417h1v1h-1zM525,416h1v1h-1zM526,416h1v1h-1zM527,416h1v1h-1zM528,416h1v1h-1zM529,415h1v1h-1zM530,415h1v1h-1zM531,415h1v1h-1zM532,415h1v1h-1zM533,414h1v1h-1zM534,414h1v1h-1zM535,414h1v1h-1zM536,414h1v1h-1zM537,414h1v1h-1zM538,414h1v1h-1zM539,414h1v1h-1zM540,414h1v1h-1zM541,414h1v1h-1zM542,414h1v1h-1zM543,414h1v1h-1zM544,414h1v1h-1zM545,415h1v1h-1zM546,415h1v1h-1zM547,415h1v1h-1zM548,415h1v1h-1zM549,415h1v1h-1zM550,415h1v1h-1zM551,415h1v1h-1zM552,415h1v1h-1zM553,416h1v1h-1zM554,416h1v1h-1zM555,416h1v1h-1zM556,416h1v1h-1zM557,417h1v1h-1zM558,417h1v1h-1zM559,417h1v1h-1zM560,417h1v1h-1zM561,417h1v1h-1zM562,417h1v1h-1zM563,417h1v1h-1zM564,417h1v1h-1zM565,417h1v1h-1zM566,417h1v1h-1zM567,417h1v1h-1zM568,417h1v1h-1zM569,417h1v1h-1zM570,417h1v1h-1zM571,417h1v1h-1zM572,417h1v1h-1zM573,418h1v1h-1zM574,418h1v1h-1zM575,418h1v1h-1zM576,418h1v1h-1zM577,418h1v1h-1zM578,418h1v1h-1zM579,418h1v1h-1zM580,418h1v1h-1zM581,418h1v1h-1zM582,418h1v1h-1zM583,418h1v1h-1zM584,418h1v1h-1zM585,417h1v1h-1zM586,417h1v1h-1zM587,417h1v1h-1zM588,417h1v1h-1zM589,418h1v1h-1zM590,418h1v1h-1zM591,418h1v1h-1zM592,418h1v1h-1zM593,418h1v1h-1zM594,418h1v1h-1zM595,418h1v1h-1zM596,418h1v1h-1zM597,419h1v1h-1zM598,419h1v1h-1zM599,419h1v1h-1zM600,419h1v1h-1zM601,419h1v1h-1zM602,419h1v1h-1zM603,419h1v1h-1zM604,419h1v1h-1zM605,420h1v1h-1zM606,420h1v1h-1zM607,420h1v1h-1zM608,421h1v1h-1zM609,421h1v1h-1zM610,422h1v1h-1zM611,422h1v1h-1zM612,422h1v1h-1zM613,423h1v1h-1zM614,423h1v1h-1zM615,423h1v1h-1zM616,424h1v1h-1zM617,424h1v1h-1zM618,425h1v1h-1zM619,425h1v1h-1zM620,426h1v1h-1zM621,426h1v1h-1zM622,427h1v1h-1zM623,427h1v1h-1zM624,428h1v1h-1zM625,428h1v1h-1zM626,429h1v1h-1zM627,429h1v1h-1zM628,429h1v1h-1zM629,430h1v1h-1zM630,430h1v1h-1zM631,430h1v1h-1zM632,430h1v1h-1zM633,431h1v1h-1zM634,431h1v1h-1zM635,431h1v1h-1zM636,431h1v1h-1zM637,432h1v1h-1zM638,432h1v1h-1zM639,432h1v1h-1zM640,432h1v1h-1zM641,433h1v1h-1zM642,433h1v1h-1zM643,433h1v1h-1zM644,433h1v1h-1zM645,433h1v1h-1zM646,433h1v1h-1zM647,433h1v1h-1zM648,433h1v1h-1zM649,432h1v1h-1zM650,432h1v1h-1zM651,432h1v1h-1zM652,432h1v1h-1zM653,431h1v1h-1zM654,431h1v1h-1zM655,431h1v1h-1zM656,431h1v1h-1zM657,430h1v1h-1zM658,430h1v1h-1zM659,430h1v1h-1zM660,430h1v1h-1zM661,429h1v1h-1zM662,429h1v1h-1zM663,429h1v1h-1zM664,428h1v1h-1zM665,428h1v1h-1zM666,427h1v1h-1zM667,427h1v1h-1zM668,427h1v1h-1zM669,427h1v1h-1zM670,427h1v1h-1zM671,427h1v1h-1zM672,427h1v1h-1zM673,426h1v1h-1zM674,426h1v1h-1zM675,426h1v1h-1zM676,425h1v1h-1zM677,425h1v1h-1zM678,424h1v1h-1zM679,424h1v1h-1zM680,424h1v1h-1zM681,423h1v1h-1zM682,423h1v1h-1zM683,423h1v1h-1zM684,423h1v1h-1zM685,422h1v1h-1zM686,422h1v1h-1zM687,422h1v1h-1zM688,422h1v1h-1zM689,421h1v1h-1zM690,421h1v1h-1zM691,421h1v1h-1zM692,421h1v1h-1zM693,420h1v1h-1zM694,420h1v1h-1zM695,420h1v1h-1zM696,420h1v1h-1zM697,419h1v1h-1zM698,419h1v1h-1zM699,419h1v1h-1zM700,419h1v1h-1zM701,418h1v1h-1zM702,418h1v1h-1zM703,418h1v1h-1zM704,418h1v1h-1zM705,418h1v1h-1zM706,418h1v1h-1zM707,418h1v1h-1zM708,418h1v1h-1zM709,417h1v1h-1zM710,417h1v1h-1zM711,417h1v1h-1zM712,417h1v1h-1zM713,416h1v1h-1zM714,416h1v1h-1zM715,416h1v1h-1zM716,416h1v1h-1zM717,415h1v1h-1zM718,415h1v1h-1zM719,415h1v1h-1zM720,415h1v1h-1zM721,415h1v1h-1zM722,415h1v1h-1zM723,415h1v1h-1zM724,415h1v1h-1zM725,414h1v1h-1zM726,414h1v1h-1zM727,414h1v1h-1zM728,414h1v1h-1zM729,413h1v1h-1zM730,413h1v1h-1zM731,413h1v1h-1zM732,412h1v1h-1zM733,412h1v1h-1zM734,411h1v1h-1zM735,411h1v1h-1zM736,411h1v1h-1zM737,410h1v1h-1zM738,410h1v1h-1zM739,410h1v1h-1zM740,409h1v1h-1zM741,409h1v1h-1zM742,408h1v1h-1zM743,408h1v1h-1zM744,408h1v1h-1zM745,407h1v1h-1zM746,407h1v1h-1zM747,407h1v1h-1zM748,407h1v1h-1zM749,406h1v1h-1zM750,406h1v1h-1zM751,406h1v1h-1zM752,406h1v1h-1zM753,405h1v1h-1zM754,405h1v1h-1zM755,405h1v1h-1zM756,405h1v1h-1zM757,404h1v1h-1zM758,404h1v1h-1zM759,404h1v1h-1zM760,404h1v1h-1zM761,404h1v1h-1zM762,404h1v1h-1zM763,404h1v1h-1zM764,404h1v1h-1zM765,404h1v1h-1zM766,404h1v1h-1zM767,404h1v1h-1zM768,404h1v1h-1zM769,405h1v1h-1zM770,405h1v1h-1zM771,405h1v1h-1zM772,405h1v1h-1zM773,406h1v1h-1zM774,406h1v1h-1zM775,406h1v1h-1zM776,406h1v1h-1zM777,407h1v1h-1zM778,407h1v1h-1zM779,407h1v1h-1zM780,407h1v1h-1zM781,408h1v1h-1zM782,408h1v1h-1zM783,408h1v1h-1zM784,408h1v1h-1zM785,408h1v1h-1zM786,408h1v1h-1zM787,408h1v1h-1zM788,408h1v1h-1zM789,408h1v1h-1zM790,408h1v1h-1zM791,408h1v1h-1zM792,408h1v1h-1zM793,408h1v1h-1zM794,408h1v1h-1zM795,408h1v1h-1zM796,408h1v1h-1zM797,407h1v1h-1zM798,407h1v1h-1zM799,407h1v1h-1zM800,407h1v1h-1zM801,406h1v1h-1zM802,406h1v1h-1zM803,406h1v1h-1zM804,405h1v1h-1zM805,405h1v1h-1zM806,404h1v1h-1zM807,404h1v1h-1zM808,403h1v1h-1zM809,402h1v1h-1zM810,402h1v1h-1zM811,401h1v1h-1zM812,401h1v1h-1zM813,400h1v1h-1zM814,400h1v1h-1zM815,400h1v1h-1zM816,399h1v1h-1zM817,399h1v1h-1zM818,398h1v1h-1zM819,398h1v1h-1zM820,398h1v1h-1zM821,397h1v1h-1zM822,397h1v1h-1zM823,397h1v1h-1zM824,397h1v1h-1zM825,396h1v1h-1zM826,396h1v1h-1zM827,396h1v1h-1zM828,396h1v1h-1zM829,395h1v1h-1zM830,395h1v1h-1zM831,395h1v1h-1zM832,395h1v1h-1zM833,395h1v1h-1zM834,395h1v1h-1zM835,395h1v1h-1zM836,395h1v1h-1zM837,395h1v1h-1zM838,395h1v1h-1zM839,395h1v1h-1zM840,395h1v1h-1zM841,395h1v1h-1zM842,395h1v1h-1zM843,395h1v1h-1zM844,395h1v1h-1zM845,396h1v1h-1zM846,396h1v1h-1zM847,396h1v1h-1zM848,396h1v1h-1zM849,396h1v1h-1zM850,396h1v1h-1zM851,396h1v1h-1zM852,396h1v1h-1zM853,397h1v1h-1zM854,397h1v1h-1zM855,397h1v1h-1zM856,397h1v1h-1zM857,398h1v1h-1zM858,398h1v1h-1zM859,398h1v1h-1zM860,399h1v1h-1zM861,399h1v1h-1zM862,400h1v1h-1zM863,400h1v1h-1zM864,400h1v1h-1zM865,401h1v1h-1zM866,401h1v1h-1zM867,401h1v1h-1zM868,402h1v1h-1zM869,402h1v1h-1zM870,403h1v1h-1zM871,403h1v1h-1zM872,404h1v1h-1zM873,404h1v1h-1zM874,405h1v1h-1zM875,405h1v1h-1zM876,406h1v1h-1zM877,406h1v1h-1zM878,407h1v1h-1zM879,407h1v1h-1zM880,408h1v1h-1zM881,408h1v1h-1zM882,409h1v1h-1zM883,409h1v1h-1zM884,410h1v1h-1zM885,410h1v1h-1zM886,411h1v1h-1zM887,411h1v1h-1zM888,412h1v1h-1zM889,413h1v1h-1zM890,413h1v1h-1zM891,414h1v1h-1zM892,414h1v1h-1zM893,415h1v1h-1zM894,415h1v1h-1zM895,415h1v1h-1zM896,416h1v1h-1zM897,416h1v1h-1zM898,417h1v1h-1zM899,417h1v1h-1zM900,418h1v1h-1zM901,418h1v1h-1zM902,419h1v1h-1zM903,419h1v1h-1zM904,420h1v1h-1zM905,420h1v1h-1zM906,421h1v1h-1zM907,421h1v1h-1zM908,422h1v1h-1zM909,422h1v1h-1zM910,423h1v1h-1zM911,423h1v1h-1z" fill="#ff0000" shape-rendering="crispEdges"/>
</g>
<text x="7" y="401.5" font-size="9.3" fill="#000" textLength="154.5" lengthAdjust="spacingAndGlyphs">MACD(12,26,9) -0.004312 -0.000938</text>
<rect x="1150" y="391" width="2" height="1" fill="#000"/>
<rect x="1150" y="420" width="2" height="1" fill="#000"/>
<rect x="1150" y="454" width="2" height="1" fill="#000"/>
<text x="1153" y="400" font-size="9.3" fill="#000" textLength="38" lengthAdjust="spacingAndGlyphs">0.008061</text>
<text x="1153" y="424" font-size="9.3" fill="#000" textLength="18.8" lengthAdjust="spacingAndGlyphs">0.00</text>
<text x="1153" y="451" font-size="9.3" fill="#000" textLength="41.5" lengthAdjust="spacingAndGlyphs">-0.009286</text>
<rect x="2" y="457" width="1148" height="1" fill="#000"/>
<rect x="2" y="526" width="1148" height="1" fill="#000"/>
<rect x="2" y="457" width="1" height="70" fill="#000"/>
<rect x="1149" y="457" width="1" height="70" fill="#000"/>
<g clip-path="url(#crsi)">
<line x1="3" y1="479.5" x2="1149" y2="479.5" stroke="#c0c0c0" stroke-dasharray="3,3" shape-rendering="crispEdges"/>
<line x1="3" y1="505.5" x2="1149" y2="505.5" stroke="#c0c0c0" stroke-dasharray="3,3" shape-rendering="crispEdges"/>
<path d="M3,495h1v1h-1zM4,496h1v1h-1zM5,496h1v1h-1zM6,497h1v1h-1zM7,497h1v1h-1zM8,496h1v1h-1zM9,496h1v1h-1zM10,495h1v1h-1zM11,495h1v1h-1zM12,496h1v1h-1zM13,497h1v1h-1zM14,498h1v1h-1zM15,499h1v1h-1zM16,499h1v1h-1zM17,500h1v1h-1zM18,500h1v1h-1zM19,500h1v1h-1zM20,500h1v1h-1zM21,501h1v1h-1zM22,501h1v1h-1zM23,501h1v1h-1zM24,500h1v1h-1zM25,500h1v1h-1zM26,499h1v1h-1zM27,499h1v1h-1zM28,498h1v1h-1zM29,497h1v1h-1zM30,497h1v1h-1zM31,496h1v1h-1zM32,497h1v1h-1zM33,497h1v1h-1zM34,498h1v1h-1zM35,498h1v1h-1zM36,497h1v1h-1zM37,496h1v1h-1zM38,496h1v1h-1zM39,495h1v1h-1zM40,495h1v1h-1zM41,495h1v1h-1zM42,495h1v1h-1zM43,495h1v1h-1zM44,496h1v1h-1zM45,497h1v1h-1zM46,497h1v1h-1zM47,498h1v1h-1zM48,499h1v2h-1zM49,501h1v1h-1zM50,502h1v2h-1zM51,504h1v1h-1zM52,504h1v1h-1zM53,505h1v1h-1zM54,505h1v1h-1zM55,505h1v1h-1zM56,506h1v1h-1zM57,507h1v1h-1zM58,508h1v1h-1zM59,509h1v1h-1zM60,509h1v1h-1zM61,509h1v1h-1zM62,509h1v1h-1zM63,509h1v1h-1zM64,509h1v1h-1zM65,509h1v1h-1zM66,509h1v1h-1zM67,509h1v1h-1zM68,507h1v2h-1zM69,505h1v2h-1zM70,503h1v2h-1zM71,501h1v2h-1zM72,500h1v1h-1zM73,499h1v1h-1zM74,498h1v1h-1zM75,497h1v1h-1zM76,496h1v1h-1zM77,496h1v1h-1zM78,495h1v1h-1zM79,495h1v1h-1zM80,496h1v1h-1zM81,497h1v1h-1zM82,497h1v1h-1zM83,498h1v1h-1zM84,496h1v2h-1zM85,495h1v1h-1zM86,493h1v2h-1zM87,492h1v1h-1zM88,492h1v1h-1zM89,492h1v1h-1zM90,492h1v1h-1zM91,492h1v1h-1zM92,493h1v1h-1zM93,493h1v1h-1zM94,494h1v1h-1zM95,494h1v1h-1zM96,493h1v1h-1zM97,493h1v1h-1zM98,492h1v1h-1zM99,492h1v1h-1zM100,491h1v1h-1zM101,490h1v1h-1zM102,489h1v1h-1zM103,488h1v1h-1zM104,487h1v1h-1zM105,487h1v1h-1zM106,486h1v1h-1zM107,486h1v1h-1zM108,485h1v1h-1zM109,484h1v1h-1zM110,484h1v1h-1zM111,483h1v1h-1zM112,484h1v1h-1zM113,484h1v1h-1zM114,485h1v1h-1zM115,485h1v1h-1zM116,485h1v1h-1zM117,485h1v1h-1zM118,485h1v1h-1zM119,485h1v1h-1zM120,486h1v1h-1zM121,487h1v1h-1zM122,488h1v1h-1zM123,489h1v1h-1zM124,490h1v1h-1zM125,490h1v1h-1zM126,491h1v1h-1zM127,491h1v1h-1zM128,491h1v1h-1zM129,491h1v1h-1zM130,491h1v1h-1zM131,491h1v1h-1zM132,491h1v1h-1zM133,491h1v1h-1zM134,491h1v1h-1zM135,491h1v1h-1zM136,491h1v1h-1zM137,491h1v1h-1zM138,491h1v1h-1zM139,491h1v1h-1zM140,491h1v1h-1zM141,491h1v1h-1zM142,491h1v1h-1zM143,491h1v1h-1zM144,492h1v1h-1zM145,493h1v1h-1zM146,494h1v1h-1zM147,495h1v1h-1zM148,494h1v1h-1zM149,494h1v1h-1zM150,493h1v1h-1zM151,493h1v1h-1zM152,494h1v1h-1zM153,495h1v1h-1zM154,496h1v1h-1zM155,497h1v1h-1zM156,497h1v1h-1zM157,498h1v1h-1zM158,498h1v1h-1zM159,498h1v1h-1zM160,498h1v1h-1zM161,499h1v1h-1zM162,499h1v1h-1zM163,499h1v1h-1zM164,499h1v1h-1zM165,499h1v1h-1zM166,499h1v1h-1zM167,499h1v1h-1zM168,500h1v1h-1zM169,501h1v1h-1zM170,501h1v1h-1zM171,502h1v1h-1zM172,502h1v1h-1zM173,501h1v1h-1zM174,501h1v1h-1zM175,501h1v1h-1zM176,499h1v2h-1zM177,497h1v2h-1zM178,495h1v2h-1zM179,494h1v1h-1zM180,495h1v1h-1zM181,496h1v1h-1zM182,496h1v1h-1zM183,497h1v1h-1zM184,497h1v1h-1zM185,496h1v1h-1zM186,496h1v1h-1zM187,496h1v1h-1zM188,496h1v1h-1zM189,495h1v1h-1zM190,495h1v1h-1zM191,495h1v1h-1zM192,496h1v1h-1zM193,497h1v1h-1zM194,497h1v1h-1zM195,498h1v1h-1zM196,499h1v1h-1zM197,500h1v1h-1zM198,501h1v1h-1zM199,502h1v1h-1zM200,501h1v1h-1zM201,499h1v2h-1zM202,498h1v1h-1zM203,497h1v1h-1zM204,496h1v1h-1zM205,495h1v1h-1zM206,495h1v1h-1zM207,494h1v1h-1zM208,494h1v1h-1zM209,493h1v1h-1zM210,493h1v1h-1zM211,493h1v1h-1zM212,493h1v1h-1zM213,492h1v1h-1zM214,492h1v1h-1zM215,492h1v1h-1zM216,492h1v1h-1zM217,492h1v1h-1zM218,492h1v1h-1zM219,492h1v1h-1zM220,492h1v1h-1zM221,493h1v1h-1zM222,493h1v1h-1zM223,493h1v1h-1zM224,492h1v1h-1zM225,491h1v1h-1zM226,491h1v1h-1zM227,490h1v1h-1zM228,490h1v1h-1zM229,490h1v1h-1zM230,490h1v1h-1zM231,490h1v1h-1zM232,491h1v1h-1zM233,491h1v1h-1zM234,492h1v1h-1zM235,492h1v1h-1zM236,491h1v1h-1zM237,489h1v2h-1zM238,488h1v1h-1zM239,487h1v1h-1zM240,488h1v1h-1zM241,488h1v1h-1zM242,489h1v1h-1zM243,489h1v1h-1zM244,488h1v1h-1zM245,487h1v1h-1zM246,486h1v1h-1zM247,485h1v1h-1zM248,484h1v1h-1zM249,484h1v1h-1zM250,483h1v1h-1zM251,483h1v1h-1zM252,483h1v1h-1zM253,483h1v1h-1zM254,483h1v1h-1zM255,483h1v1h-1zM256,483h1v1h-1zM257,482h1v1h-1zM258,482h1v1h-1zM259,482h1v1h-1zM260,483h1v1h-1zM261,483h1v1h-1zM262,484h1v1h-1zM263,484h1v1h-1zM264,483h1v1h-1zM265,482h1v1h-1zM266,481h1v1h-1zM267,480h1v1h-1zM268,479h1v1h-1zM269,479h1v1h-1zM270,478h1v1h-1zM271,478h1v1h-1zM272,479h1v2h-1zM273,481h1v1h-1zM274,482h1v2h-1zM275,484h1v1h-1zM276,484h1v1h-1zM277,484h1v1h-1zM278,484h1v1h-1zM279,484h1v1h-1zM280,484h1v1h-1zM281,484h1v1h-1zM282,484h1v1h-1zM283,484h1v1h-1zM284,483h1v1h-1zM285,483h1v1h-1zM286,482h1v1h-1zM287,482h1v1h-1zM288,482h1v1h-1zM289,481h1v1h-1zM290,481h1v1h-1zM291,481h1v1h-1zM292,481h1v1h-1zM293,482h1v1h-1zM294,482h1v1h-1zM295,482h1v1h-1zM296,481h1v1h-1zM297,481h1v1h-1zM298,480h1v1h-1zM299,480h1v1h-1zM300,480h1v1h-1zM301,481h1v1h-1zM302,481h1v1h-1zM303,481h1v1h-1zM304,481h1v1h-1zM305,482h1v1h-1zM306,482h1v1h-1zM307,482h1v1h-1zM308,482h1v1h-1zM309,482h1v1h-1zM310,482h1v1h-1zM311,482h1v2h-1zM312,484h1v2h-1zM313,486h1v3h-1zM314,489h1v2h-1zM315,491h1v2h-1zM316,491h1v1h-1zM317,490h1v1h-1zM318,490h1v1h-1zM319,489h1v1h-1zM320,490h1v2h-1zM321,492h1v1h-1zM322,493h1v2h-1zM323,495h1v1h-1zM324,495h1v1h-1zM325,496h1v1h-1zM326,496h1v1h-1zM327,496h1v1h-1zM328,496h1v1h-1zM329,496h1v1h-1zM330,496h1v1h-1zM331,496h1v1h-1zM332,495h1v1h-1zM333,495h1v1h-1zM334,494h1v1h-1zM335,494h1v1h-1zM336,495h1v1h-1zM337,496h1v1h-1zM338,496h1v1h-1zM339,497h1v1h-1zM340,498h1v1h-1zM341,499h1v1h-1zM342,499h1v1h-1zM343,500h1v1h-1zM344,501h1v1h-1zM345,502h1v1h-1zM346,502h1v1h-1zM347,503h1v1h-1zM348,502h1v1h-1zM349,501h1v1h-1zM350,500h1v1h-1zM351,499h1v1h-1zM352,499h1v1h-1zM353,498h1v1h-1zM354,498h1v1h-1zM355,498h1v1h-1zM356,498h1v1h-1zM357,497h1v1h-1zM358,497h1v1h-1zM359,497h1v1h-1zM360,498h1v1h-1zM361,499h1v1h-1zM362,499h1v1h-1zM363,500h1v1h-1zM364,501h1v1h-1zM365,501h1v1h-1zM366,502h1v1h-1zM367,502h1v1h-1zM368,502h1v1h-1zM369,501h1v1h-1zM370,501h1v1h-1zM371,501h1v1h-1zM372,502h1v1h-1zM373,503h1v1h-1zM374,503h1v1h-1zM375,504h1v1h-1zM376,504h1v1h-1zM377,504h1v1h-1zM378,504h1v1h-1zM379,504h1v1h-1zM380,504h1v1h-1zM381,504h1v1h-1zM382,504h1v1h-1zM383,504h1v1h-1zM384,504h1v1h-1zM385,505h1v1h-1zM386,505h1v1h-1zM387,505h1v1h-1zM388,505h1v1h-1zM389,506h1v1h-1zM390,506h1v1h-1zM391,506h1v1h-1zM392,507h1v1h-1zM393,507h1v1h-1zM394,508h1v1h-1zM395,508h1v1h-1zM396,509h1v1h-1zM397,509h1v1h-1zM398,510h1v1h-1zM399,510h1v1h-1zM400,509h1v1h-1zM401,508h1v1h-1zM402,507h1v1h-1zM403,506h1v1h-1zM404,506h1v1h-1zM405,506h1v1h-1zM406,506h1v1h-1zM407,506h1v1h-1zM408,506h1v1h-1zM409,507h1v1h-1zM410,507h1v1h-1zM411,507h1v1h-1zM412,507h1v1h-1zM413,508h1v1h-1zM414,508h1v1h-1zM415,508h1v1h-1zM416,508h1v1h-1zM417,509h1v1h-1zM418,509h1v1h-1zM419,509h1v1h-1zM420,510h1v1h-1zM421,511h1v1h-1zM422,512h1v1h-1zM423,513h1v1h-1zM424,512h1v1h-1zM425,511h1v1h-1zM426,511h1v1h-1zM427,510h1v1h-1zM428,509h1v1h-1zM429,508h1v1h-1zM430,507h1v1h-1zM431,506h1v1h-1zM432,504h1v2h-1zM433,502h1v2h-1zM434,500h1v2h-1zM435,498h1v2h-1zM436,497h1v1h-1zM437,496h1v1h-1zM438,495h1v1h-1zM439,494h1v1h-1zM440,495h1v1h-1zM441,495h1v1h-1zM442,496h1v1h-1zM443,496h1v1h-1zM444,495h1v1h-1zM445,495h1v1h-1zM446,494h1v1h-1zM447,494h1v1h-1zM448,494h1v1h-1zM449,494h1v1h-1zM450,494h1v1h-1zM451,494h1v1h-1zM452,495h1v1h-1zM453,496h1v1h-1zM454,496h1v1h-1zM455,497h1v1h-1zM456,498h1v1h-1zM457,498h1v1h-1zM458,499h1v1h-1zM459,499h1v1h-1zM460,497h1v2h-1zM461,496h1v1h-1zM462,494h1v2h-1zM463,493h1v1h-1zM464,493h1v1h-1zM465,493h1v1h-1zM466,493h1v1h-1zM467,493h1v1h-1zM468,494h1v1h-1zM469,495h1v1h-1zM470,495h1v1h-1zM471,496h1v1h-1zM472,496h1v1h-1zM473,497h1v1h-1zM474,497h1v1h-1zM475,497h1v1h-1zM476,497h1v1h-1zM477,497h1v1h-1zM478,497h1v1h-1zM479,497h1v1h-1zM480,496h1v1h-1zM481,495h1v1h-1zM482,495h1v1h-1zM483,494h1v1h-1zM484,493h1v1h-1zM485,491h1v2h-1zM486,490h1v1h-1zM487,489h1v1h-1zM488,489h1v1h-1zM489,488h1v1h-1zM490,488h1v1h-1zM491,488h1v1h-1zM492,488h1v1h-1zM493,488h1v1h-1zM494,488h1v1h-1zM495,488h1v1h-1zM496,488h1v1h-1zM497,488h1v1h-1zM498,488h1v1h-1zM499,488h1v1h-1zM500,488h1v1h-1zM501,487h1v1h-1zM502,487h1v1h-1zM503,487h1v1h-1zM504,487h1v1h-1zM505,488h1v1h-1zM506,488h1v1h-1zM507,488h1v1h-1zM508,487h1v1h-1zM509,487h1v1h-1zM510,486h1v1h-1zM511,486h1v1h-1zM512,486h1v1h-1zM513,487h1v1h-1zM514,487h1v1h-1zM515,487h1v1h-1zM516,486h1v1h-1zM517,486h1v1h-1zM518,485h1v1h-1zM519,485h1v1h-1zM520,485h1v1h-1zM521,485h1v1h-1zM522,485h1v1h-1zM523,485h1v2h-1zM524,487h1v2h-1zM525,489h1v2h-1zM526,491h1v2h-1zM527,493h1v2h-1zM528,493h1v1h-1zM529,492h1v1h-1zM530,491h1v1h-1zM531,490h1v1h-1zM532,490h1v1h-1zM533,491h1v1h-1zM534,491h1v1h-1zM535,491h1v1h-1zM536,492h1v1h-1zM537,493h1v2h-1zM538,495h1v1h-1zM539,496h1v1h-1zM540,495h1v1h-1zM541,495h1v1h-1zM542,494h1v1h-1zM543,494h1v1h-1zM544,494h1v1h-1zM545,495h1v1h-1zM546,495h1v1h-1zM547,495h1v1h-1zM548,495h1v1h-1zM549,494h1v1h-1zM550,494h1v1h-1zM551,494h1v1h-1zM552,493h1v1h-1zM553,493h1v1h-1zM554,492h1v1h-1zM555,492h1v1h-1zM556,490h1v2h-1zM557,489h1v1h-1zM558,487h1v2h-1zM559,486h1v1h-1zM560,486h1v1h-1zM561,486h1v1h-1zM562,486h1v1h-1zM563,486h1v1h-1zM564,487h1v2h-1zM565,489h1v2h-1zM566,491h1v2h-1zM567,493h1v1h-1zM568,493h1v1h-1zM569,492h1v1h-1zM570,492h1v1h-1zM571,492h1v1h-1zM572,492h1v1h-1zM573,493h1v1h-1zM574,493h1v1h-1zM575,493h1v1h-1zM576,494h1v1h-1zM577,494h1v1h-1zM578,495h1v1h-1zM579,495h1v1h-1zM580,494h1v1h-1zM581,493h1v1h-1zM582,493h1v1h-1zM583,492h1v1h-1zM584,492h1v1h-1zM585,492h1v1h-1zM586,492h1v1h-1zM587,492h1v1h-1zM588,493h1v1h-1zM589,494h1v1h-1zM590,495h1v1h-1zM591,496h1v1h-1zM592,495h1v1h-1zM593,495h1v1h-1zM594,494h1v1h-1zM595,494h1v1h-1zM596,495h1v1h-1zM597,496h1v1h-1zM598,496h1v1h-1zM599,497h1v1h-1zM600,497h1v1h-1zM601,497h1v1h-1zM602,497h1v1h-1zM603,497h1v1h-1zM604,498h1v1h-1zM605,499h1v1h-1zM606,499h1v1h-1zM607,500h1v1h-1zM608,501h1v1h-1zM609,502h1v2h-1zM610,504h1v1h-1zM611,505h1v1h-1zM612,506h1v1h-1zM613,506h1v1h-1zM614,507h1v1h-1zM615,507h1v1h-1zM616,507h1v1h-1zM617,506h1v1h-1zM618,506h1v1h-1zM619,506h1v1h-1zM620,504h1v2h-1zM621,502h1v2h-1zM622,500h1v2h-1zM623,498h1v2h-1zM624,497h1v1h-1zM625,496h1v1h-1zM626,495h1v1h-1zM627,494h1v1h-1zM628,494h1v1h-1zM629,495h1v1h-1zM630,495h1v1h-1zM631,495h1v1h-1zM632,494h1v1h-1zM633,494h1v1h-1zM634,493h1v1h-1zM635,493h1v1h-1zM636,494h1v1h-1zM637,495h1v1h-1zM638,496h1v1h-1zM639,497h1v1h-1zM640,497h1v1h-1zM641,497h1v1h-1zM642,497h1v1h-1zM643,497h1v1h-1zM644,496h1v1h-1zM645,495h1v1h-1zM646,494h1v1h-1zM647,493h1v1h-1zM648,493h1v1h-1zM649,492h1v1h-1zM650,492h1v1h-1zM651,492h1v1h-1zM652,491h1v1h-1zM653,491h1v1h-1zM654,490h1v1h-1zM655,490h1v1h-1zM656,490h1v1h-1zM657,491h1v1h-1zM658,491h1v1h-1zM659,491h1v1h-1zM660,492h1v1h-1zM661,493h1v1h-1zM662,493h1v1h-1zM663,494h1v1h-1zM664,493h1v1h-1zM665,493h1v1h-1zM666,492h1v1h-1zM667,492h1v1h-1zM668,492h1v1h-1zM669,493h1v1h-1zM670,493h1v1h-1zM671,493h1v1h-1zM672,493h1v1h-1zM673,492h1v1h-1zM674,492h1v1h-1zM675,492h1v1h-1zM676,491h1v1h-1zM677,490h1v1h-1zM678,489h1v1h-1zM679,488h1v1h-1zM680,488h1v1h-1zM681,489h1v1h-1zM682,489h1v1h-1zM683,489h1v1h-1zM684,489h1v1h-1zM685,489h1v1h-1zM686,489h1v1h-1zM687,489h1v1h-1zM688,489h1v1h-1zM689,490h1v1h-1zM690,490h1v1h-1zM691,490h1v1h-1zM692,490h1v1h-1zM693,489h1v1h-1zM694,489h1v1h-1zM695,489h1v1h-1zM696,488h1v1h-1zM697,487h1v1h-1zM698,487h1v1h-1zM699,486h1v1h-1zM700,486h1v1h-1zM701,486h1v1h-1zM702,486h1v1h-1zM703,486h1v1h-1zM704,487h1v2h-1zM705,489h1v2h-1zM706,491h1v2h-1zM707,493h1v1h-1zM708,491h1v2h-1zM709,490h1v1h-1zM710,488h1v2h-1zM711,487h1v1h-1zM712,488h1v1h-1zM713,489h1v1h-1zM714,490h1v1h-1zM715,491h1v1h-1zM716,490h1v1h-1zM717,489h1v1h-1zM718,488h1v1h-1zM719,487h1v1h-1zM720,487h1v1h-1zM721,486h1v1h-1zM722,486h1v1h-1zM723,486h1v1h-1zM724,486h1v1h-1zM725,485h1v1h-1zM726,485h1v1h-1zM727,485h1v1h-1zM728,484h1v1h-1zM729,483h1v1h-1zM730,483h1v1h-1zM731,482h1v1h-1zM732,482h1v1h-1zM733,481h1v1h-1zM734,481h1v1h-1zM735,481h1v1h-1zM736,481h1v1h-1zM737,480h1v1h-1zM738,480h1v1h-1zM739,480h1v1h-1zM740,481h1v2h-1zM741,483h1v1h-1zM742,484h1v2h-1zM743,486h1v1h-1zM744,487h1v1h-1zM745,488h1v1h-1zM746,489h1v1h-1zM747,490h1v1h-1zM748,489h1v1h-1zM749,489h1v1h-1zM750,488h1v1h-1zM751,488h1v1h-1zM752,487h1v1h-1zM753,486h1v1h-1zM754,486h1v1h-1zM755,485h1v1h-1zM756,486h1v1h-1zM757,487h1v2h-1zM758,489h1v1h-1zM759,490h1v1h-1zM760,490h1v1h-1zM761,490h1v1h-1zM762,490h1v1h-1zM763,490h1v1h-1zM764,491h1v2h-1zM765,493h1v1h-1zM766,494h1v2h-1zM767,496h1v1h-1zM768,496h1v1h-1zM769,496h1v1h-1zM770,496h1v1h-1zM771,496h1v1h-1zM772,494h1v2h-1zM773,493h1v1h-1zM774,491h1v2h-1zM775,490h1v1h-1zM776,489h1v1h-1zM777,488h1v1h-1zM778,487h1v1h-1zM779,486h1v1h-1zM780,486h1v1h-1zM781,485h1v1h-1zM782,485h1v1h-1zM783,485h1v1h-1zM784,485h1v1h-1zM785,485h1v1h-1zM786,485h1v1h-1zM787,485h1v1h-1zM788,485h1v1h-1zM789,486h1v1h-1zM790,486h1v1h-1zM791,486h1v1h-1zM792,485h1v1h-1zM793,484h1v1h-1zM794,484h1v1h-1zM795,483h1v1h-1zM796,483h1v1h-1zM797,482h1v1h-1zM798,482h1v1h-1zM799,482h1v1h-1zM800,482h1v1h-1zM801,481h1v1h-1zM802,481h1v1h-1zM803,481h1v1h-1zM804,481h1v1h-1zM805,481h1v1h-1zM806,481h1v1h-1zM807,481h1v1h-1zM808,481h1v1h-1zM809,481h1v1h-1zM810,481h1v1h-1zM811,481h1v1h-1zM812,482h1v1h-1zM813,482h1v1h-1zM814,483h1v1h-1zM815,483h1v1h-1zM816,483h1v1h-1zM817,482h1v1h-1zM818,482h1v1h-1zM819,482h1v1h-1zM820,483h1v1h-1zM821,483h1v1h-1zM822,484h1v1h-1zM823,484h1v1h-1zM824,484h1v1h-1zM825,485h1v1h-1zM826,485h1v1h-1zM827,485h1v1h-1zM828,485h1v1h-1zM829,484h1v1h-1zM830,484h1v1h-1zM831,484h1v1h-1zM832,484h1v1h-1zM833,485h1v1h-1zM834,485h1v1h-1zM835,485h1v1h-1zM836,484h1v1h-1zM837,483h1v1h-1zM838,483h1v1h-1zM839,482h1v1h-1zM840,481h1v1h-1zM841,481h1v1h-1zM842,480h1v1h-1zM843,480h1v1h-1zM844,481h1v2h-1zM845,483h1v2h-1zM846,485h1v2h-1zM847,487h1v1h-1zM848,488h1v1h-1zM849,489h1v1h-1zM850,489h1v1h-1zM851,490h1v1h-1zM852,490h1v1h-1zM853,491h1v1h-1zM854,491h1v1h-1zM855,491h1v1h-1zM856,491h1v1h-1zM857,492h1v1h-1zM858,492h1v1h-1zM859,492h1v1h-1zM860,493h1v1h-1zM861,494h1v1h-1zM862,494h1v1h-1zM863,495h1v1h-1zM864,494h1v1h-1zM865,493h1v1h-1zM866,492h1v1h-1zM867,491h1v1h-1zM868,491h1v1h-1zM869,492h1v1h-1zM870,492h1v1h-1zM871,492h1v1h-1zM872,493h1v1h-1zM873,494h1v1h-1zM874,494h1v1h-1zM875,495h1v1h-1zM876,495h1v1h-1zM877,496h1v1h-1zM878,496h1v1h-1zM879,496h1v1h-1zM880,496h1v1h-1zM881,496h1v1h-1zM882,496h1v1h-1zM883,496h1v1h-1zM884,497h1v1h-1zM885,498h1v1h-1zM886,498h1v1h-1zM887,499h1v1h-1zM888,498h1v1h-1zM889,497h1v1h-1zM890,496h1v1h-1zM891,495h1v1h-1zM892,494h1v1h-1zM893,493h1v1h-1zM894,492h1v1h-1zM895,491h1v1h-1zM896,492h1v2h-1zM897,494h1v1h-1zM898,495h1v2h-1zM899,497h1v1h-1zM900,498h1v2h-1zM901,500h1v1h-1zM902,501h1v2h-1zM903,503h1v1h-1zM904,503h1v1h-1zM905,503h1v1h-1zM906,503h1v1h-1zM907,503h1v1h-1zM908,504h1v1h-1zM909,504h1v1h-1zM910,505h1v1h-1zM911,505h1v1h-1z" fill="#1e90ff" shape-rendering="crispEdges"/>
</g>
<text x="7" y="470" font-size="9.3" fill="#000" textLength="67.5" lengthAdjust="spacingAndGlyphs">RSI(14) 30.4161</text>
<rect x="1150" y="460" width="2" height="1" fill="#000"/>
<rect x="1150" y="479" width="2" height="1" fill="#000"/>
<rect x="1150" y="505" width="2" height="1" fill="#000"/>
<rect x="1150" y="524" width="2" height="1" fill="#000"/>
<text x="1153" y="468" font-size="9.3" fill="#000" textLength="16.5" lengthAdjust="spacingAndGlyphs">100</text>
<text x="1153" y="483.5" font-size="9.3" fill="#000" textLength="11" lengthAdjust="spacingAndGlyphs">70</text>
<text x="1153" y="509" font-size="9.3" fill="#000" textLength="11" lengthAdjust="spacingAndGlyphs">30</text>
<text x="1153" y="523" font-size="9.3" fill="#000" textLength="5.5" lengthAdjust="spacingAndGlyphs">0</text>
<rect x="3" y="527" width="1" height="3" fill="#000"/>
<text x="1.6" y="538.8" font-size="9.3" fill="#000" textLength="48.1" lengthAdjust="spacingAndGlyphs">3 Aug 2021</text>
<rect x="67" y="527" width="1" height="3" fill="#000"/>
<text x="66.0" y="538.8" font-size="9.3" fill="#000" textLength="52.5" lengthAdjust="spacingAndGlyphs">22 Aug 2021</text>
<rect x="131" y="527" width="1" height="3" fill="#000"/>
<text x="130.0" y="538.8" font-size="9.3" fill="#000" textLength="46.4" lengthAdjust="spacingAndGlyphs">9 Sep 2021</text>
<rect x="195" y="527" width="1" height="3" fill="#000"/>
<text x="193.7" y="538.8" font-size="9.3" fill="#000" textLength="52.5" lengthAdjust="spacingAndGlyphs">28 Sep 2021</text>
<rect x="259" y="527" width="1" height="3" fill="#000"/>
<text x="257.8" y="538.8" font-size="9.3" fill="#000" textLength="51.1" lengthAdjust="spacingAndGlyphs">17 Oct 2021</text>
<rect x="323" y="527" width="1" height="3" fill="#000"/>
<text x="321.7" y="538.8" font-size="9.3" fill="#000" textLength="49.4" lengthAdjust="spacingAndGlyphs">4 Nov 2021</text>
<rect x="387" y="527" width="1" height="3" fill="#000"/>
<text x="385.7" y="538.8" font-size="9.3" fill="#000" textLength="54.6" lengthAdjust="spacingAndGlyphs">23 Nov 2021</text>
<rect x="451" y="527" width="1" height="3" fill="#000"/>
<text x="449.6" y="538.8" font-size="9.3" fill="#000" textLength="52.2" lengthAdjust="spacingAndGlyphs">12 Dec 2021</text>
<rect x="515" y="527" width="1" height="3" fill="#000"/>
<text x="513.7" y="538.8" font-size="9.3" fill="#000" textLength="52.3" lengthAdjust="spacingAndGlyphs">30 Dec 2021</text>
<rect x="579" y="527" width="1" height="3" fill="#000"/>
<text x="578.0" y="538.8" font-size="9.3" fill="#000" textLength="50.5" lengthAdjust="spacingAndGlyphs">18 Jan 2022</text>
<rect x="643" y="527" width="1" height="3" fill="#000"/>
<text x="641.5" y="538.8" font-size="9.3" fill="#000" textLength="47.8" lengthAdjust="spacingAndGlyphs">6 Feb 2022</text>
<rect x="707" y="527" width="1" height="3" fill="#000"/>
<text x="705.7" y="538.8" font-size="9.3" fill="#000" textLength="52.8" lengthAdjust="spacingAndGlyphs">24 Feb 2022</text>
<rect x="771" y="527" width="1" height="3" fill="#000"/>
<text x="769.9" y="538.8" font-size="9.3" fill="#000" textLength="52.8" lengthAdjust="spacingAndGlyphs">15 Mar 2022</text>
<rect x="835" y="527" width="1" height="3" fill="#000"/>
<text x="834.0" y="538.8" font-size="9.3" fill="#000" textLength="46.6" lengthAdjust="spacingAndGlyphs">3 Apr 2022</text>
<rect x="899" y="527" width="1" height="3" fill="#000"/>
<text x="898.2" y="538.8" font-size="9.3" fill="#000" textLength="51.5" lengthAdjust="spacingAndGlyphs">21 Apr 2022</text>
<rect x="0" y="547" width="1192" height="1" fill="#e3e3e3"/>
<rect x="0" y="549" width="1192" height="1" fill="#000"/>
<rect x="0" y="550" width="1192" height="18" fill="#f0f0f0"/>
<rect x="212" y="549" width="108" height="19" fill="#000"/>
<rect x="213" y="550" width="106" height="17" fill="#fff"/>
<text x="14.7" y="563.2" font-size="12" fill="#707070" textLength="78.3" lengthAdjust="spacingAndGlyphs">USDX,Weekly</text>
<text x="115.0" y="563.2" font-size="12" fill="#707070" textLength="85.2" lengthAdjust="spacingAndGlyphs">EURUSD-,Daily</text>
<text x="221.3" y="563.2" font-size="12" fill="#000" textLength="88.3" lengthAdjust="spacingAndGlyphs">AUDUSD-,Daily</text>
<text x="331.7" y="563.2" font-size="12" fill="#707070" textLength="84.7" lengthAdjust="spacingAndGlyphs">USDCHF-,Daily</text>
<text x="438.7" y="563.2" font-size="12" fill="#707070" textLength="86.6" lengthAdjust="spacingAndGlyphs">USDCAD-,Daily</text>
<text x="547.4" y="563.2" font-size="12" fill="#707070" textLength="89.0" lengthAdjust="spacingAndGlyphs">USDCNH-,Daily</text>
<text x="658.7" y="563.2" font-size="12" fill="#707070" textLength="86.6" lengthAdjust="spacingAndGlyphs">XAUUSD-,Daily</text>
<text x="766.8" y="563.2" font-size="12" fill="#707070" textLength="57.6" lengthAdjust="spacingAndGlyphs">UKOil-,H4</text>
<text x="847.7" y="563.2" font-size="12" fill="#707070" textLength="64.7" lengthAdjust="spacingAndGlyphs">DJ30-,Daily</text>
<text x="934.3" y="563.2" font-size="12" fill="#707070" textLength="62.1" lengthAdjust="spacingAndGlyphs">UK100-,H1</text>
<text x="1019.8" y="563.2" font-size="12" fill="#707070" textLength="56.2" lengthAdjust="spacingAndGlyphs">USOil-,H1</text>
<text x="1097.5" y="563.2" font-size="12" fill="#707070" textLength="55.5" lengthAdjust="spacingAndGlyphs">HK50-,H1</text>
<rect x="104" y="552" width="1" height="14" fill="#808080"/>
<rect x="428" y="552" width="1" height="14" fill="#808080"/>
<rect x="536" y="552" width="1" height="14" fill="#808080"/>
<rect x="648" y="552" width="1" height="14" fill="#808080"/>
<rect x="756" y="552" width="1" height="14" fill="#808080"/>
<rect x="836" y="552" width="1" height="14" fill="#808080"/>
<rect x="924" y="552" width="1" height="14" fill="#808080"/>
<rect x="1008" y="552" width="1" height="14" fill="#808080"/>
<rect x="1088" y="552" width="1" height="14" fill="#808080"/>
<path d="M1164.5,558 L1168.5,554.5 L1168.5,561.5 Z" fill="#a0a0a0"/>
<path d="M1188,558 L1184,554.5 L1184,561.5 Z" fill="#000"/>
</svg></body></html>
